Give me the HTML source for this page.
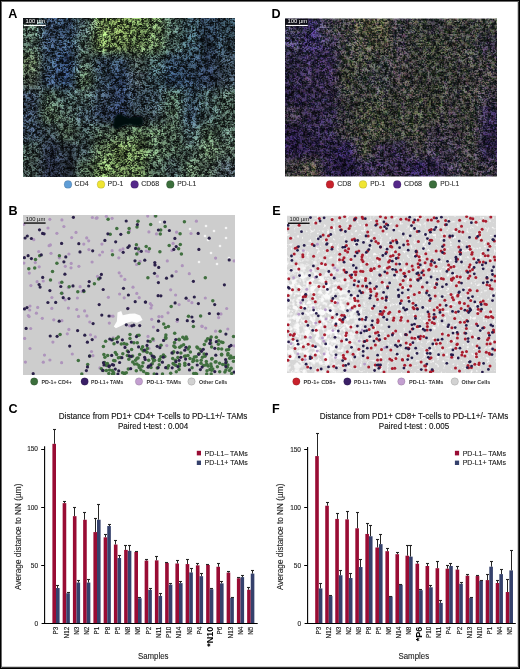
<!DOCTYPE html>
<html><head><meta charset="utf-8"><title>Figure</title>
<style>
html,body{margin:0;padding:0;background:#fff;}
body{width:520px;height:669px;position:relative;overflow:hidden;}
svg{position:absolute;left:0;top:0;font-family:"Liberation Sans", Arial, Helvetica, sans-serif;}
.frame{position:absolute;left:0;top:0;width:520px;height:669px;box-sizing:border-box;border:1px solid #000;box-shadow:inset 1px 1px 0 #6a6a6a, inset -1px -1px 0 #3a3a3a, inset -2px -2px 0 #cfcfcf;}
</style></head><body>
<svg width="520" height="669" viewBox="0 0 520 669">
<rect width="520" height="669" fill="#fff"/>
<defs><filter id="fA" x="-7" y="-12" width="272" height="219" filterUnits="userSpaceOnUse" color-interpolation-filters="sRGB">
<feGaussianBlur in="SourceGraphic" stdDeviation="4" result="base"/>
<feTurbulence type="fractalNoise" baseFrequency="0.612 0.666" numOctaves="2" seed="11" result="n1a"/>
<feTurbulence type="fractalNoise" baseFrequency="0.234" numOctaves="2" seed="14" result="n1b"/>
<feComposite in="n1a" in2="n1b" operator="arithmetic" k1="0" k2="0.5" k3="0.5" k4="0" result="n1"/>
<feColorMatrix in="n1" type="matrix" values="2.8 0 0 0 -0.8999999999999999  2.6599999999999997 0.13999999999999999 0 0 -0.8999999999999999  2.6599999999999997 0 0.13999999999999999 0 -0.8999999999999999  0 0 0 0 1" result="g1a"/>
<feComponentTransfer in="g1a" result="g1"><feFuncR type="gamma" amplitude="1.63" exponent="1.8" offset="0"/><feFuncG type="gamma" amplitude="1.63" exponent="1.8" offset="0"/><feFuncB type="gamma" amplitude="1.63" exponent="1.8" offset="0"/></feComponentTransfer>
<feTurbulence type="fractalNoise" baseFrequency="0.08" numOctaves="2" seed="18" result="n2"/>
<feColorMatrix in="n2" type="matrix" values="1.2 0 0 0 -0.09999999999999998  1.2 0.0 0 0 -0.09999999999999998  1.2 0 0.0 0 -0.09999999999999998  0 0 0 0 1" result="g2"/>
<feComposite in="base" in2="g1" operator="arithmetic" k1="1.6" k2="0.19999999999999996" k3="0" k4="0" result="m1"/>
<feComposite in="m1" in2="g2" operator="arithmetic" k1="0.9" k2="0.55" k3="0" k4="0"/>
</filter>
<clipPath id="cA"><rect x="23" y="18" width="212" height="159"/></clipPath>
<filter id="fD" x="255" y="-11.5" width="272" height="218" filterUnits="userSpaceOnUse" color-interpolation-filters="sRGB">
<feGaussianBlur in="SourceGraphic" stdDeviation="4" result="base"/>
<feTurbulence type="fractalNoise" baseFrequency="0.612 0.666" numOctaves="2" seed="23" result="n1a"/>
<feTurbulence type="fractalNoise" baseFrequency="0.234" numOctaves="2" seed="26" result="n1b"/>
<feComposite in="n1a" in2="n1b" operator="arithmetic" k1="0" k2="0.5" k3="0.5" k4="0" result="n1"/>
<feColorMatrix in="n1" type="matrix" values="2.5 0 0 0 -0.75  2.0 0.5 0 0 -0.75  2.0 0 0.5 0 -0.75  0 0 0 0 1" result="g1a"/>
<feComponentTransfer in="g1a" result="g1"><feFuncR type="gamma" amplitude="1.6" exponent="1.8" offset="0"/><feFuncG type="gamma" amplitude="1.6" exponent="1.8" offset="0"/><feFuncB type="gamma" amplitude="1.6" exponent="1.8" offset="0"/></feComponentTransfer>
<feTurbulence type="fractalNoise" baseFrequency="0.08" numOctaves="2" seed="30" result="n2"/>
<feColorMatrix in="n2" type="matrix" values="1.0 0 0 0 0.0  1.0 0.0 0 0 0.0  1.0 0 0.0 0 0.0  0 0 0 0 1" result="g2"/>
<feComposite in="base" in2="g1" operator="arithmetic" k1="1.6" k2="0.19999999999999996" k3="0" k4="0" result="m1"/>
<feComposite in="m1" in2="g2" operator="arithmetic" k1="0.8" k2="0.6" k3="0" k4="0"/>
</filter>
<clipPath id="cD"><rect x="285" y="18.5" width="212" height="158"/></clipPath>
<filter id="bl1" x="-20%" y="-20%" width="140%" height="140%"><feGaussianBlur stdDeviation="0.9"/></filter>
<filter id="bl05" x="-20%" y="-20%" width="140%" height="140%"><feGaussianBlur stdDeviation="0.45"/></filter>
<clipPath id="cB"><rect x="23" y="215" width="212" height="160"/></clipPath>
<clipPath id="cE"><rect x="287" y="215.5" width="209" height="157.5"/></clipPath>
<filter id="fE1" x="287" y="215.5" width="209" height="157.5" filterUnits="userSpaceOnUse" color-interpolation-filters="sRGB">
<feTurbulence type="fractalNoise" baseFrequency="0.3" numOctaves="2" seed="4" result="n"/>
<feColorMatrix in="n" type="matrix" values="0 0 0 0 0.97  0 0 0 0 0.97  0 0 0 0 0.97  5 0 0 0 -2.9"/>
</filter>
<filter id="fE2" x="287" y="215.5" width="209" height="157.5" filterUnits="userSpaceOnUse" color-interpolation-filters="sRGB">
<feTurbulence type="fractalNoise" baseFrequency="0.2" numOctaves="2" seed="8" result="n"/>
<feColorMatrix in="n" type="matrix" values="0 0 0 0 0.98  0 0 0 0 0.98  0 0 0 0 0.98  5 0 0 0 -2.1"/>
</filter>
<radialGradient id="gE" cx="305" cy="320" r="75" gradientUnits="userSpaceOnUse"><stop offset="0" stop-color="#fff"/><stop offset="0.55" stop-color="#fff"/><stop offset="1" stop-color="#000"/></radialGradient>
<mask id="mE" maskUnits="userSpaceOnUse" x="287" y="215.5" width="209" height="157.5"><rect x="287" y="215.5" width="209" height="157.5" fill="url(#gE)"/></mask></defs>
<g clip-path="url(#cA)"><g filter="url(#fA)"><rect x="5.33" y="0.33" width="18.27" height="18.27" fill="#455a4e"/><rect x="23.00" y="0.33" width="18.27" height="18.27" fill="#455a4e"/><rect x="40.67" y="0.33" width="18.27" height="18.27" fill="#2c3b4f"/><rect x="58.33" y="0.33" width="18.27" height="18.27" fill="#2b3d52"/><rect x="76.00" y="0.33" width="18.27" height="18.27" fill="#3b4c4c"/><rect x="93.67" y="0.33" width="18.27" height="18.27" fill="#576d42"/><rect x="111.33" y="0.33" width="18.27" height="18.27" fill="#576c3d"/><rect x="129.00" y="0.33" width="18.27" height="18.27" fill="#50673d"/><rect x="146.67" y="0.33" width="18.27" height="18.27" fill="#4f6543"/><rect x="164.33" y="0.33" width="18.27" height="18.27" fill="#3d524b"/><rect x="182.00" y="0.33" width="18.27" height="18.27" fill="#2e4249"/><rect x="199.67" y="0.33" width="18.27" height="18.27" fill="#233241"/><rect x="217.33" y="0.33" width="18.27" height="18.27" fill="#283943"/><rect x="235.00" y="0.33" width="18.27" height="18.27" fill="#283943"/><rect x="5.33" y="18.00" width="18.27" height="18.27" fill="#455a4e"/><rect x="23.00" y="18.00" width="18.27" height="18.27" fill="#455a4e"/><rect x="40.67" y="18.00" width="18.27" height="18.27" fill="#2c3b4f"/><rect x="58.33" y="18.00" width="18.27" height="18.27" fill="#2b3d52"/><rect x="76.00" y="18.00" width="18.27" height="18.27" fill="#3b4c4c"/><rect x="93.67" y="18.00" width="18.27" height="18.27" fill="#576d42"/><rect x="111.33" y="18.00" width="18.27" height="18.27" fill="#576c3d"/><rect x="129.00" y="18.00" width="18.27" height="18.27" fill="#50673d"/><rect x="146.67" y="18.00" width="18.27" height="18.27" fill="#4f6543"/><rect x="164.33" y="18.00" width="18.27" height="18.27" fill="#3d524b"/><rect x="182.00" y="18.00" width="18.27" height="18.27" fill="#2e4249"/><rect x="199.67" y="18.00" width="18.27" height="18.27" fill="#233241"/><rect x="217.33" y="18.00" width="18.27" height="18.27" fill="#283943"/><rect x="235.00" y="18.00" width="18.27" height="18.27" fill="#283943"/><rect x="5.33" y="35.67" width="18.27" height="18.27" fill="#42554c"/><rect x="23.00" y="35.67" width="18.27" height="18.27" fill="#42554c"/><rect x="40.67" y="35.67" width="18.27" height="18.27" fill="#2a394e"/><rect x="58.33" y="35.67" width="18.27" height="18.27" fill="#2b3d51"/><rect x="76.00" y="35.67" width="18.27" height="18.27" fill="#40534c"/><rect x="93.67" y="35.67" width="18.27" height="18.27" fill="#597142"/><rect x="111.33" y="35.67" width="18.27" height="18.27" fill="#54693f"/><rect x="129.00" y="35.67" width="18.27" height="18.27" fill="#4e643f"/><rect x="146.67" y="35.67" width="18.27" height="18.27" fill="#4d6344"/><rect x="164.33" y="35.67" width="18.27" height="18.27" fill="#3c514c"/><rect x="182.00" y="35.67" width="18.27" height="18.27" fill="#2d424a"/><rect x="199.67" y="35.67" width="18.27" height="18.27" fill="#243241"/><rect x="217.33" y="35.67" width="18.27" height="18.27" fill="#293944"/><rect x="235.00" y="35.67" width="18.27" height="18.27" fill="#293944"/><rect x="5.33" y="53.33" width="18.27" height="18.27" fill="#4c5c46"/><rect x="23.00" y="53.33" width="18.27" height="18.27" fill="#4c5c46"/><rect x="40.67" y="53.33" width="18.27" height="18.27" fill="#2d3f51"/><rect x="58.33" y="53.33" width="18.27" height="18.27" fill="#243551"/><rect x="76.00" y="53.33" width="18.27" height="18.27" fill="#3d4e46"/><rect x="93.67" y="53.33" width="18.27" height="18.27" fill="#283644"/><rect x="111.33" y="53.33" width="18.27" height="18.27" fill="#273645"/><rect x="129.00" y="53.33" width="18.27" height="18.27" fill="#394643"/><rect x="146.67" y="53.33" width="18.27" height="18.27" fill="#34494a"/><rect x="164.33" y="53.33" width="18.27" height="18.27" fill="#28394b"/><rect x="182.00" y="53.33" width="18.27" height="18.27" fill="#263645"/><rect x="199.67" y="53.33" width="18.27" height="18.27" fill="#212c3d"/><rect x="217.33" y="53.33" width="18.27" height="18.27" fill="#2d3a45"/><rect x="235.00" y="53.33" width="18.27" height="18.27" fill="#2d3a45"/><rect x="5.33" y="71.00" width="18.27" height="18.27" fill="#414d42"/><rect x="23.00" y="71.00" width="18.27" height="18.27" fill="#414d42"/><rect x="40.67" y="71.00" width="18.27" height="18.27" fill="#28374d"/><rect x="58.33" y="71.00" width="18.27" height="18.27" fill="#23344e"/><rect x="76.00" y="71.00" width="18.27" height="18.27" fill="#455945"/><rect x="93.67" y="71.00" width="18.27" height="18.27" fill="#2a3946"/><rect x="111.33" y="71.00" width="18.27" height="18.27" fill="#233148"/><rect x="129.00" y="71.00" width="18.27" height="18.27" fill="#364146"/><rect x="146.67" y="71.00" width="18.27" height="18.27" fill="#31454c"/><rect x="164.33" y="71.00" width="18.27" height="18.27" fill="#25374d"/><rect x="182.00" y="71.00" width="18.27" height="18.27" fill="#253547"/><rect x="199.67" y="71.00" width="18.27" height="18.27" fill="#222c3e"/><rect x="217.33" y="71.00" width="18.27" height="18.27" fill="#2f3b46"/><rect x="235.00" y="71.00" width="18.27" height="18.27" fill="#2f3b46"/><rect x="5.33" y="88.67" width="18.27" height="18.27" fill="#2b3745"/><rect x="23.00" y="88.67" width="18.27" height="18.27" fill="#2b3745"/><rect x="40.67" y="88.67" width="18.27" height="18.27" fill="#3f5246"/><rect x="58.33" y="88.67" width="18.27" height="18.27" fill="#384b4a"/><rect x="76.00" y="88.67" width="18.27" height="18.27" fill="#3a4c4a"/><rect x="93.67" y="88.67" width="18.27" height="18.27" fill="#2c3946"/><rect x="111.33" y="88.67" width="18.27" height="18.27" fill="#243046"/><rect x="129.00" y="88.67" width="18.27" height="18.27" fill="#2b3843"/><rect x="146.67" y="88.67" width="18.27" height="18.27" fill="#303f48"/><rect x="164.33" y="88.67" width="18.27" height="18.27" fill="#405649"/><rect x="182.00" y="88.67" width="18.27" height="18.27" fill="#2e414d"/><rect x="199.67" y="88.67" width="18.27" height="18.27" fill="#364948"/><rect x="217.33" y="88.67" width="18.27" height="18.27" fill="#3b4d45"/><rect x="235.00" y="88.67" width="18.27" height="18.27" fill="#3b4d45"/><rect x="5.33" y="106.33" width="18.27" height="18.27" fill="#2a3644"/><rect x="23.00" y="106.33" width="18.27" height="18.27" fill="#2a3644"/><rect x="40.67" y="106.33" width="18.27" height="18.27" fill="#425544"/><rect x="58.33" y="106.33" width="18.27" height="18.27" fill="#3b4c46"/><rect x="76.00" y="106.33" width="18.27" height="18.27" fill="#314048"/><rect x="93.67" y="106.33" width="18.27" height="18.27" fill="#273245"/><rect x="111.33" y="106.33" width="18.27" height="18.27" fill="#242f45"/><rect x="129.00" y="106.33" width="18.27" height="18.27" fill="#2c3941"/><rect x="146.67" y="106.33" width="18.27" height="18.27" fill="#324045"/><rect x="164.33" y="106.33" width="18.27" height="18.27" fill="#415547"/><rect x="182.00" y="106.33" width="18.27" height="18.27" fill="#2e3f4e"/><rect x="199.67" y="106.33" width="18.27" height="18.27" fill="#364949"/><rect x="217.33" y="106.33" width="18.27" height="18.27" fill="#3c4e46"/><rect x="235.00" y="106.33" width="18.27" height="18.27" fill="#3c4e46"/><rect x="5.33" y="124.00" width="18.27" height="18.27" fill="#293543"/><rect x="23.00" y="124.00" width="18.27" height="18.27" fill="#293543"/><rect x="40.67" y="124.00" width="18.27" height="18.27" fill="#2d393f"/><rect x="58.33" y="124.00" width="18.27" height="18.27" fill="#3b4b3e"/><rect x="76.00" y="124.00" width="18.27" height="18.27" fill="#354544"/><rect x="93.67" y="124.00" width="18.27" height="18.27" fill="#3b4c40"/><rect x="111.33" y="124.00" width="18.27" height="18.27" fill="#415240"/><rect x="129.00" y="124.00" width="18.27" height="18.27" fill="#40543d"/><rect x="146.67" y="124.00" width="18.27" height="18.27" fill="#425543"/><rect x="164.33" y="124.00" width="18.27" height="18.27" fill="#415446"/><rect x="182.00" y="124.00" width="18.27" height="18.27" fill="#36484b"/><rect x="199.67" y="124.00" width="18.27" height="18.27" fill="#415546"/><rect x="217.33" y="124.00" width="18.27" height="18.27" fill="#3c4e47"/><rect x="235.00" y="124.00" width="18.27" height="18.27" fill="#3c4e47"/><rect x="5.33" y="141.67" width="18.27" height="18.27" fill="#3c4d47"/><rect x="23.00" y="141.67" width="18.27" height="18.27" fill="#3c4d47"/><rect x="40.67" y="141.67" width="18.27" height="18.27" fill="#222939"/><rect x="58.33" y="141.67" width="18.27" height="18.27" fill="#252e37"/><rect x="76.00" y="141.67" width="18.27" height="18.27" fill="#313f42"/><rect x="93.67" y="141.67" width="18.27" height="18.27" fill="#46593f"/><rect x="111.33" y="141.67" width="18.27" height="18.27" fill="#52683f"/><rect x="129.00" y="141.67" width="18.27" height="18.27" fill="#4d633e"/><rect x="146.67" y="141.67" width="18.27" height="18.27" fill="#445844"/><rect x="164.33" y="141.67" width="18.27" height="18.27" fill="#405446"/><rect x="182.00" y="141.67" width="18.27" height="18.27" fill="#3c4e48"/><rect x="199.67" y="141.67" width="18.27" height="18.27" fill="#485c47"/><rect x="217.33" y="141.67" width="18.27" height="18.27" fill="#435449"/><rect x="235.00" y="141.67" width="18.27" height="18.27" fill="#435449"/><rect x="5.33" y="159.33" width="18.27" height="18.27" fill="#35423f"/><rect x="23.00" y="159.33" width="18.27" height="18.27" fill="#35423f"/><rect x="40.67" y="159.33" width="18.27" height="18.27" fill="#202635"/><rect x="58.33" y="159.33" width="18.27" height="18.27" fill="#212833"/><rect x="76.00" y="159.33" width="18.27" height="18.27" fill="#3a4b3d"/><rect x="93.67" y="159.33" width="18.27" height="18.27" fill="#4f653f"/><rect x="111.33" y="159.33" width="18.27" height="18.27" fill="#506540"/><rect x="129.00" y="159.33" width="18.27" height="18.27" fill="#4c623e"/><rect x="146.67" y="159.33" width="18.27" height="18.27" fill="#3d4f43"/><rect x="164.33" y="159.33" width="18.27" height="18.27" fill="#384849"/><rect x="182.00" y="159.33" width="18.27" height="18.27" fill="#435644"/><rect x="199.67" y="159.33" width="18.27" height="18.27" fill="#425248"/><rect x="217.33" y="159.33" width="18.27" height="18.27" fill="#39444a"/><rect x="235.00" y="159.33" width="18.27" height="18.27" fill="#39444a"/><rect x="5.33" y="177.00" width="18.27" height="18.27" fill="#35423f"/><rect x="23.00" y="177.00" width="18.27" height="18.27" fill="#35423f"/><rect x="40.67" y="177.00" width="18.27" height="18.27" fill="#202635"/><rect x="58.33" y="177.00" width="18.27" height="18.27" fill="#212833"/><rect x="76.00" y="177.00" width="18.27" height="18.27" fill="#3a4b3d"/><rect x="93.67" y="177.00" width="18.27" height="18.27" fill="#4f653f"/><rect x="111.33" y="177.00" width="18.27" height="18.27" fill="#506540"/><rect x="129.00" y="177.00" width="18.27" height="18.27" fill="#4c623e"/><rect x="146.67" y="177.00" width="18.27" height="18.27" fill="#3d4f43"/><rect x="164.33" y="177.00" width="18.27" height="18.27" fill="#384849"/><rect x="182.00" y="177.00" width="18.27" height="18.27" fill="#435644"/><rect x="199.67" y="177.00" width="18.27" height="18.27" fill="#425248"/><rect x="217.33" y="177.00" width="18.27" height="18.27" fill="#39444a"/><rect x="235.00" y="177.00" width="18.27" height="18.27" fill="#39444a"/></g><path d="M117.3,112.7 L123,115 L128.8,117.3 L134.6,116.7 L140.4,116.1 L143.3,118.5 L143.8,123 L141.5,126 L134.6,126 L128.8,124.8 L123,126 L118.5,128.8 L115,129.4 L112.7,125.4 L113.8,118.5 Z" fill="#06080c" filter="url(#bl1)"/><rect x="23" y="18" width="14" height="6.3" fill="#0b0c10" opacity="0.85"/><text x="25.6" y="22.9" font-size="5.6" fill="#fff" textLength="19.6" lengthAdjust="spacingAndGlyphs">100 µm</text><rect x="23.8" y="24.9" width="22" height="1.1" fill="#fff"/></g>
<g clip-path="url(#cD)"><g filter="url(#fD)"><rect x="267.33" y="0.94" width="18.27" height="18.16" fill="#37344f"/><rect x="285.00" y="0.94" width="18.27" height="18.16" fill="#37344f"/><rect x="302.67" y="0.94" width="18.27" height="18.16" fill="#302954"/><rect x="320.33" y="0.94" width="18.27" height="18.16" fill="#41414b"/><rect x="338.00" y="0.94" width="18.27" height="18.16" fill="#404042"/><rect x="355.67" y="0.94" width="18.27" height="18.16" fill="#4c4e3c"/><rect x="373.33" y="0.94" width="18.27" height="18.16" fill="#454738"/><rect x="391.00" y="0.94" width="18.27" height="18.16" fill="#3b3b41"/><rect x="408.67" y="0.94" width="18.27" height="18.16" fill="#3b403a"/><rect x="426.33" y="0.94" width="18.27" height="18.16" fill="#2c2e31"/><rect x="444.00" y="0.94" width="18.27" height="18.16" fill="#3b3d38"/><rect x="461.67" y="0.94" width="18.27" height="18.16" fill="#3b3f3b"/><rect x="479.33" y="0.94" width="18.27" height="18.16" fill="#3c413c"/><rect x="497.00" y="0.94" width="18.27" height="18.16" fill="#3c413c"/><rect x="267.33" y="18.50" width="18.27" height="18.16" fill="#37344f"/><rect x="285.00" y="18.50" width="18.27" height="18.16" fill="#37344f"/><rect x="302.67" y="18.50" width="18.27" height="18.16" fill="#302954"/><rect x="320.33" y="18.50" width="18.27" height="18.16" fill="#41414b"/><rect x="338.00" y="18.50" width="18.27" height="18.16" fill="#404042"/><rect x="355.67" y="18.50" width="18.27" height="18.16" fill="#4c4e3c"/><rect x="373.33" y="18.50" width="18.27" height="18.16" fill="#454738"/><rect x="391.00" y="18.50" width="18.27" height="18.16" fill="#3b3b41"/><rect x="408.67" y="18.50" width="18.27" height="18.16" fill="#3b403a"/><rect x="426.33" y="18.50" width="18.27" height="18.16" fill="#2c2e31"/><rect x="444.00" y="18.50" width="18.27" height="18.16" fill="#3b3d38"/><rect x="461.67" y="18.50" width="18.27" height="18.16" fill="#3b3f3b"/><rect x="479.33" y="18.50" width="18.27" height="18.16" fill="#3c413c"/><rect x="497.00" y="18.50" width="18.27" height="18.16" fill="#3c413c"/><rect x="267.33" y="36.06" width="18.27" height="18.16" fill="#35324c"/><rect x="285.00" y="36.06" width="18.27" height="18.16" fill="#35324c"/><rect x="302.67" y="36.06" width="18.27" height="18.16" fill="#302851"/><rect x="320.33" y="36.06" width="18.27" height="18.16" fill="#37324d"/><rect x="338.00" y="36.06" width="18.27" height="18.16" fill="#404141"/><rect x="355.67" y="36.06" width="18.27" height="18.16" fill="#404239"/><rect x="373.33" y="36.06" width="18.27" height="18.16" fill="#444638"/><rect x="391.00" y="36.06" width="18.27" height="18.16" fill="#3b3a41"/><rect x="408.67" y="36.06" width="18.27" height="18.16" fill="#3b3f39"/><rect x="426.33" y="36.06" width="18.27" height="18.16" fill="#3a4035"/><rect x="444.00" y="36.06" width="18.27" height="18.16" fill="#3b3c38"/><rect x="461.67" y="36.06" width="18.27" height="18.16" fill="#3b3f3b"/><rect x="479.33" y="36.06" width="18.27" height="18.16" fill="#333040"/><rect x="497.00" y="36.06" width="18.27" height="18.16" fill="#333040"/><rect x="267.33" y="53.61" width="18.27" height="18.16" fill="#2c2741"/><rect x="285.00" y="53.61" width="18.27" height="18.16" fill="#2c2741"/><rect x="302.67" y="53.61" width="18.27" height="18.16" fill="#312947"/><rect x="320.33" y="53.61" width="18.27" height="18.16" fill="#302748"/><rect x="338.00" y="53.61" width="18.27" height="18.16" fill="#3c3f38"/><rect x="355.67" y="53.61" width="18.27" height="18.16" fill="#434740"/><rect x="373.33" y="53.61" width="18.27" height="18.16" fill="#3a3e3e"/><rect x="391.00" y="53.61" width="18.27" height="18.16" fill="#403c3f"/><rect x="408.67" y="53.61" width="18.27" height="18.16" fill="#353835"/><rect x="426.33" y="53.61" width="18.27" height="18.16" fill="#333832"/><rect x="444.00" y="53.61" width="18.27" height="18.16" fill="#393c38"/><rect x="461.67" y="53.61" width="18.27" height="18.16" fill="#3b3c3b"/><rect x="479.33" y="53.61" width="18.27" height="18.16" fill="#3c3c3c"/><rect x="497.00" y="53.61" width="18.27" height="18.16" fill="#3c3c3c"/><rect x="267.33" y="71.17" width="18.27" height="18.16" fill="#28223b"/><rect x="285.00" y="71.17" width="18.27" height="18.16" fill="#28223b"/><rect x="302.67" y="71.17" width="18.27" height="18.16" fill="#2f2741"/><rect x="320.33" y="71.17" width="18.27" height="18.16" fill="#312843"/><rect x="338.00" y="71.17" width="18.27" height="18.16" fill="#3c4035"/><rect x="355.67" y="71.17" width="18.27" height="18.16" fill="#373c3c"/><rect x="373.33" y="71.17" width="18.27" height="18.16" fill="#373b3e"/><rect x="391.00" y="71.17" width="18.27" height="18.16" fill="#3f3c3d"/><rect x="408.67" y="71.17" width="18.27" height="18.16" fill="#343633"/><rect x="426.33" y="71.17" width="18.27" height="18.16" fill="#313531"/><rect x="444.00" y="71.17" width="18.27" height="18.16" fill="#383a38"/><rect x="461.67" y="71.17" width="18.27" height="18.16" fill="#3b3b3b"/><rect x="479.33" y="71.17" width="18.27" height="18.16" fill="#3d3b3c"/><rect x="497.00" y="71.17" width="18.27" height="18.16" fill="#3d3b3c"/><rect x="267.33" y="88.72" width="18.27" height="18.16" fill="#261f3c"/><rect x="285.00" y="88.72" width="18.27" height="18.16" fill="#261f3c"/><rect x="302.67" y="88.72" width="18.27" height="18.16" fill="#2d2641"/><rect x="320.33" y="88.72" width="18.27" height="18.16" fill="#2f2842"/><rect x="338.00" y="88.72" width="18.27" height="18.16" fill="#343536"/><rect x="355.67" y="88.72" width="18.27" height="18.16" fill="#373b36"/><rect x="373.33" y="88.72" width="18.27" height="18.16" fill="#393d37"/><rect x="391.00" y="88.72" width="18.27" height="18.16" fill="#393b38"/><rect x="408.67" y="88.72" width="18.27" height="18.16" fill="#3a3d36"/><rect x="426.33" y="88.72" width="18.27" height="18.16" fill="#383c34"/><rect x="444.00" y="88.72" width="18.27" height="18.16" fill="#363638"/><rect x="461.67" y="88.72" width="18.27" height="18.16" fill="#3d3f3a"/><rect x="479.33" y="88.72" width="18.27" height="18.16" fill="#36323f"/><rect x="497.00" y="88.72" width="18.27" height="18.16" fill="#36323f"/><rect x="267.33" y="106.28" width="18.27" height="18.16" fill="#322d39"/><rect x="285.00" y="106.28" width="18.27" height="18.16" fill="#322d39"/><rect x="302.67" y="106.28" width="18.27" height="18.16" fill="#2c2440"/><rect x="320.33" y="106.28" width="18.27" height="18.16" fill="#2d2741"/><rect x="338.00" y="106.28" width="18.27" height="18.16" fill="#313235"/><rect x="355.67" y="106.28" width="18.27" height="18.16" fill="#3f4337"/><rect x="373.33" y="106.28" width="18.27" height="18.16" fill="#393e34"/><rect x="391.00" y="106.28" width="18.27" height="18.16" fill="#373c36"/><rect x="408.67" y="106.28" width="18.27" height="18.16" fill="#3b4036"/><rect x="426.33" y="106.28" width="18.27" height="18.16" fill="#3b3f36"/><rect x="444.00" y="106.28" width="18.27" height="18.16" fill="#363538"/><rect x="461.67" y="106.28" width="18.27" height="18.16" fill="#3d403a"/><rect x="479.33" y="106.28" width="18.27" height="18.16" fill="#2c2542"/><rect x="497.00" y="106.28" width="18.27" height="18.16" fill="#2c2542"/><rect x="267.33" y="123.83" width="18.27" height="18.16" fill="#241b3c"/><rect x="285.00" y="123.83" width="18.27" height="18.16" fill="#241b3c"/><rect x="302.67" y="123.83" width="18.27" height="18.16" fill="#2a233f"/><rect x="320.33" y="123.83" width="18.27" height="18.16" fill="#2c2541"/><rect x="338.00" y="123.83" width="18.27" height="18.16" fill="#3d3c3c"/><rect x="355.67" y="123.83" width="18.27" height="18.16" fill="#3a3d36"/><rect x="373.33" y="123.83" width="18.27" height="18.16" fill="#3e4235"/><rect x="391.00" y="123.83" width="18.27" height="18.16" fill="#3b4038"/><rect x="408.67" y="123.83" width="18.27" height="18.16" fill="#3d4038"/><rect x="426.33" y="123.83" width="18.27" height="18.16" fill="#322d3c"/><rect x="444.00" y="123.83" width="18.27" height="18.16" fill="#35333a"/><rect x="461.67" y="123.83" width="18.27" height="18.16" fill="#3c3e3b"/><rect x="479.33" y="123.83" width="18.27" height="18.16" fill="#2c2442"/><rect x="497.00" y="123.83" width="18.27" height="18.16" fill="#2c2442"/><rect x="267.33" y="141.39" width="18.27" height="18.16" fill="#261c3f"/><rect x="285.00" y="141.39" width="18.27" height="18.16" fill="#261c3f"/><rect x="302.67" y="141.39" width="18.27" height="18.16" fill="#281f3d"/><rect x="320.33" y="141.39" width="18.27" height="18.16" fill="#29213f"/><rect x="338.00" y="141.39" width="18.27" height="18.16" fill="#291f4a"/><rect x="355.67" y="141.39" width="18.27" height="18.16" fill="#42463b"/><rect x="373.33" y="141.39" width="18.27" height="18.16" fill="#2f283f"/><rect x="391.00" y="141.39" width="18.27" height="18.16" fill="#302843"/><rect x="408.67" y="141.39" width="18.27" height="18.16" fill="#3c3a3e"/><rect x="426.33" y="141.39" width="18.27" height="18.16" fill="#363240"/><rect x="444.00" y="141.39" width="18.27" height="18.16" fill="#34303e"/><rect x="461.67" y="141.39" width="18.27" height="18.16" fill="#3c3c3d"/><rect x="479.33" y="141.39" width="18.27" height="18.16" fill="#2b2343"/><rect x="497.00" y="141.39" width="18.27" height="18.16" fill="#2b2343"/><rect x="267.33" y="158.94" width="18.27" height="18.16" fill="#383638"/><rect x="285.00" y="158.94" width="18.27" height="18.16" fill="#383638"/><rect x="302.67" y="158.94" width="18.27" height="18.16" fill="#45443a"/><rect x="320.33" y="158.94" width="18.27" height="18.16" fill="#29203f"/><rect x="338.00" y="158.94" width="18.27" height="18.16" fill="#1f1737"/><rect x="355.67" y="158.94" width="18.27" height="18.16" fill="#2e2643"/><rect x="373.33" y="158.94" width="18.27" height="18.16" fill="#302940"/><rect x="391.00" y="158.94" width="18.27" height="18.16" fill="#322944"/><rect x="408.67" y="158.94" width="18.27" height="18.16" fill="#291f47"/><rect x="426.33" y="158.94" width="18.27" height="18.16" fill="#2e2545"/><rect x="444.00" y="158.94" width="18.27" height="18.16" fill="#342f3f"/><rect x="461.67" y="158.94" width="18.27" height="18.16" fill="#3b3b3d"/><rect x="479.33" y="158.94" width="18.27" height="18.16" fill="#363240"/><rect x="497.00" y="158.94" width="18.27" height="18.16" fill="#363240"/><rect x="267.33" y="176.50" width="18.27" height="18.16" fill="#383638"/><rect x="285.00" y="176.50" width="18.27" height="18.16" fill="#383638"/><rect x="302.67" y="176.50" width="18.27" height="18.16" fill="#45443a"/><rect x="320.33" y="176.50" width="18.27" height="18.16" fill="#29203f"/><rect x="338.00" y="176.50" width="18.27" height="18.16" fill="#1f1737"/><rect x="355.67" y="176.50" width="18.27" height="18.16" fill="#2e2643"/><rect x="373.33" y="176.50" width="18.27" height="18.16" fill="#302940"/><rect x="391.00" y="176.50" width="18.27" height="18.16" fill="#322944"/><rect x="408.67" y="176.50" width="18.27" height="18.16" fill="#291f47"/><rect x="426.33" y="176.50" width="18.27" height="18.16" fill="#2e2545"/><rect x="444.00" y="176.50" width="18.27" height="18.16" fill="#342f3f"/><rect x="461.67" y="176.50" width="18.27" height="18.16" fill="#3b3b3d"/><rect x="479.33" y="176.50" width="18.27" height="18.16" fill="#363240"/><rect x="497.00" y="176.50" width="18.27" height="18.16" fill="#363240"/></g><rect x="285" y="18.5" width="23" height="8" fill="#0b0a10" opacity="0.85"/><text x="287.6" y="22.9" font-size="5.6" fill="#fff" textLength="19.6" lengthAdjust="spacingAndGlyphs">100 µm</text><rect x="285.8" y="24.9" width="22" height="1.1" fill="#fff"/></g>
<g clip-path="url(#cB)"><rect x="23" y="215" width="212" height="160" fill="#cdcdcd"/><path d="M113.8,326.5 L116.9,321.2 L117.5,312.5 L121.2,311.1 L122.8,315.2 L129.6,313.8 L134.9,313.6 L140.2,315.4 L142.6,320.1 L137,322.8 L131.7,321.6 L126.5,323.0 L121.2,325.8 L115.9,328.2 Z" fill="#fdfdfd" filter="url(#bl05)"/><circle cx="205" cy="236" r="1.3" fill="#f4f4f4"/><circle cx="208" cy="240" r="1.3" fill="#f4f4f4"/><circle cx="214" cy="231" r="1.3" fill="#f4f4f4"/><circle cx="220" cy="246" r="1.3" fill="#f4f4f4"/><circle cx="226" cy="238" r="1.3" fill="#f4f4f4"/><circle cx="211" cy="253" r="1.3" fill="#f4f4f4"/><circle cx="229" cy="258" r="1.3" fill="#f4f4f4"/><circle cx="199" cy="262" r="1.3" fill="#f4f4f4"/><circle cx="217" cy="264" r="1.3" fill="#f4f4f4"/><circle cx="190" cy="229" r="1.3" fill="#f4f4f4"/><circle cx="160" cy="222" r="1.3" fill="#f4f4f4"/><circle cx="226" cy="228" r="1.3" fill="#f4f4f4"/><circle cx="206" cy="226" r="1.3" fill="#f4f4f4"/><g filter="url(#bl05)"><g fill="#ae94bc"><circle cx="23.9" cy="224.3" r="1.6"/><circle cx="48.0" cy="228.0" r="1.6"/><circle cx="61.9" cy="219.9" r="1.6"/><circle cx="63.9" cy="226.5" r="1.6"/><circle cx="49.8" cy="219.3" r="1.6"/><circle cx="56.9" cy="233.3" r="1.6"/><circle cx="96.3" cy="218.2" r="1.6"/><circle cx="97.1" cy="217.8" r="1.6"/><circle cx="92.4" cy="217.5" r="1.6"/><circle cx="76.0" cy="232.4" r="1.6"/><circle cx="112.1" cy="218.3" r="1.6"/><circle cx="106.4" cy="216.3" r="1.6"/><circle cx="147.7" cy="216.1" r="1.6"/><circle cx="154.8" cy="215.9" r="1.6"/><circle cx="148.9" cy="231.9" r="1.6"/><circle cx="129.5" cy="230.8" r="1.6"/><circle cx="176.6" cy="232.2" r="1.6"/><circle cx="156.5" cy="233.9" r="1.6"/><circle cx="191.0" cy="233.5" r="1.6"/><circle cx="196.4" cy="221.2" r="1.6"/><circle cx="49.1" cy="245.7" r="1.6"/><circle cx="33.8" cy="239.7" r="1.6"/><circle cx="38.7" cy="251.5" r="1.6"/><circle cx="51.0" cy="253.3" r="1.6"/><circle cx="50.4" cy="244.9" r="1.6"/><circle cx="71.7" cy="237.6" r="1.6"/><circle cx="68.9" cy="254.0" r="1.6"/><circle cx="83.8" cy="244.1" r="1.6"/><circle cx="102.5" cy="252.0" r="1.6"/><circle cx="101.9" cy="244.1" r="1.6"/><circle cx="88.9" cy="249.6" r="1.6"/><circle cx="88.7" cy="240.8" r="1.6"/><circle cx="86.7" cy="237.9" r="1.6"/><circle cx="112.1" cy="250.7" r="1.6"/><circle cx="123.0" cy="248.9" r="1.6"/><circle cx="120.1" cy="250.2" r="1.6"/><circle cx="146.2" cy="251.0" r="1.6"/><circle cx="138.2" cy="247.9" r="1.6"/><circle cx="148.6" cy="251.6" r="1.6"/><circle cx="138.3" cy="251.9" r="1.6"/><circle cx="173.1" cy="243.4" r="1.6"/><circle cx="172.0" cy="250.5" r="1.6"/><circle cx="35.3" cy="262.6" r="1.6"/><circle cx="39.2" cy="266.8" r="1.6"/><circle cx="29.3" cy="273.1" r="1.6"/><circle cx="23.9" cy="263.1" r="1.6"/><circle cx="71.2" cy="263.4" r="1.6"/><circle cx="71.0" cy="267.8" r="1.6"/><circle cx="59.3" cy="257.8" r="1.6"/><circle cx="65.3" cy="266.3" r="1.6"/><circle cx="92.1" cy="262.0" r="1.6"/><circle cx="99.7" cy="255.0" r="1.6"/><circle cx="78.9" cy="266.3" r="1.6"/><circle cx="118.8" cy="257.8" r="1.6"/><circle cx="119.2" cy="272.8" r="1.6"/><circle cx="140.0" cy="261.4" r="1.6"/><circle cx="155.1" cy="264.8" r="1.6"/><circle cx="136.6" cy="264.5" r="1.6"/><circle cx="167.3" cy="260.9" r="1.6"/><circle cx="176.2" cy="271.5" r="1.6"/><circle cx="182.3" cy="265.7" r="1.6"/><circle cx="189.3" cy="273.7" r="1.6"/><circle cx="215.6" cy="258.1" r="1.6"/><circle cx="234.1" cy="260.9" r="1.6"/><circle cx="43.2" cy="281.0" r="1.6"/><circle cx="37.1" cy="281.7" r="1.6"/><circle cx="30.9" cy="285.6" r="1.6"/><circle cx="68.3" cy="287.6" r="1.6"/><circle cx="62.3" cy="293.2" r="1.6"/><circle cx="59.7" cy="282.8" r="1.6"/><circle cx="80.1" cy="286.7" r="1.6"/><circle cx="97.5" cy="276.4" r="1.6"/><circle cx="82.1" cy="291.4" r="1.6"/><circle cx="121.1" cy="276.0" r="1.6"/><circle cx="124.8" cy="279.4" r="1.6"/><circle cx="119.6" cy="294.0" r="1.6"/><circle cx="136.8" cy="293.4" r="1.6"/><circle cx="133.0" cy="287.2" r="1.6"/><circle cx="157.4" cy="276.2" r="1.6"/><circle cx="170.7" cy="289.8" r="1.6"/><circle cx="36.4" cy="313.2" r="1.6"/><circle cx="37.7" cy="307.4" r="1.6"/><circle cx="30.0" cy="306.0" r="1.6"/><circle cx="29.7" cy="310.0" r="1.6"/><circle cx="68.4" cy="308.1" r="1.6"/><circle cx="51.8" cy="308.4" r="1.6"/><circle cx="51.9" cy="297.5" r="1.6"/><circle cx="65.2" cy="299.8" r="1.6"/><circle cx="84.6" cy="310.9" r="1.6"/><circle cx="76.8" cy="309.5" r="1.6"/><circle cx="77.4" cy="298.0" r="1.6"/><circle cx="108.4" cy="297.3" r="1.6"/><circle cx="128.3" cy="308.3" r="1.6"/><circle cx="124.2" cy="297.8" r="1.6"/><circle cx="139.2" cy="297.7" r="1.6"/><circle cx="151.0" cy="308.0" r="1.6"/><circle cx="150.3" cy="303.7" r="1.6"/><circle cx="151.6" cy="305.3" r="1.6"/><circle cx="179.1" cy="304.6" r="1.6"/><circle cx="175.6" cy="295.0" r="1.6"/><circle cx="168.0" cy="312.8" r="1.6"/><circle cx="191.9" cy="302.7" r="1.6"/><circle cx="205.3" cy="298.0" r="1.6"/><circle cx="188.7" cy="300.5" r="1.6"/><circle cx="226.7" cy="308.5" r="1.6"/><circle cx="221.0" cy="313.9" r="1.6"/><circle cx="30.7" cy="328.5" r="1.6"/><circle cx="42.3" cy="318.3" r="1.6"/><circle cx="28.3" cy="315.5" r="1.6"/><circle cx="29.1" cy="316.6" r="1.6"/><circle cx="61.9" cy="320.7" r="1.6"/><circle cx="68.9" cy="329.4" r="1.6"/><circle cx="53.8" cy="319.8" r="1.6"/><circle cx="67.3" cy="333.8" r="1.6"/><circle cx="86.9" cy="315.9" r="1.6"/><circle cx="90.5" cy="334.8" r="1.6"/><circle cx="89.8" cy="322.0" r="1.6"/><circle cx="78.5" cy="316.4" r="1.6"/><circle cx="113.0" cy="316.2" r="1.6"/><circle cx="109.3" cy="323.1" r="1.6"/><circle cx="110.6" cy="316.0" r="1.6"/><circle cx="153.4" cy="327.0" r="1.6"/><circle cx="151.7" cy="319.3" r="1.6"/><circle cx="129.5" cy="325.8" r="1.6"/><circle cx="177.2" cy="321.3" r="1.6"/><circle cx="158.9" cy="316.6" r="1.6"/><circle cx="162.0" cy="316.7" r="1.6"/><circle cx="201.9" cy="326.1" r="1.6"/><circle cx="205.7" cy="328.1" r="1.6"/><circle cx="202.1" cy="326.5" r="1.6"/><circle cx="227.8" cy="329.0" r="1.6"/><circle cx="215.6" cy="331.2" r="1.6"/><circle cx="218.6" cy="317.6" r="1.6"/><circle cx="24.7" cy="338.4" r="1.6"/><circle cx="30.0" cy="348.5" r="1.6"/><circle cx="52.9" cy="342.1" r="1.6"/><circle cx="72.3" cy="354.0" r="1.6"/><circle cx="91.5" cy="351.5" r="1.6"/><circle cx="95.3" cy="336.9" r="1.6"/><circle cx="113.1" cy="337.9" r="1.6"/><circle cx="124.5" cy="344.8" r="1.6"/><circle cx="153.6" cy="340.5" r="1.6"/><circle cx="148.0" cy="336.4" r="1.6"/><circle cx="149.0" cy="348.4" r="1.6"/><circle cx="174.8" cy="343.3" r="1.6"/><circle cx="166.8" cy="345.6" r="1.6"/><circle cx="211.0" cy="344.6" r="1.6"/><circle cx="234.1" cy="345.8" r="1.6"/><circle cx="25.4" cy="362.1" r="1.6"/><circle cx="44.5" cy="355.1" r="1.6"/><circle cx="43.3" cy="362.2" r="1.6"/><circle cx="49.9" cy="360.0" r="1.6"/><circle cx="61.6" cy="362.7" r="1.6"/><circle cx="99.9" cy="367.9" r="1.6"/><circle cx="92.9" cy="355.7" r="1.6"/></g><g fill="#41703f"><circle cx="108.1" cy="219.3" r="1.75"/><circle cx="128.5" cy="232.4" r="1.75"/><circle cx="110.2" cy="234.2" r="1.75"/><circle cx="116.8" cy="228.6" r="1.75"/><circle cx="137.0" cy="227.1" r="1.75"/><circle cx="129.1" cy="228.6" r="1.75"/><circle cx="138.0" cy="221.2" r="1.75"/><circle cx="150.7" cy="224.6" r="1.75"/><circle cx="165.2" cy="226.6" r="1.75"/><circle cx="155.7" cy="215.9" r="1.75"/><circle cx="160.3" cy="234.1" r="1.75"/><circle cx="160.7" cy="230.1" r="1.75"/><circle cx="180.1" cy="233.8" r="1.75"/><circle cx="184.4" cy="221.8" r="1.75"/><circle cx="112.5" cy="254.8" r="1.75"/><circle cx="138.6" cy="249.1" r="1.75"/><circle cx="136.4" cy="244.7" r="1.75"/><circle cx="149.4" cy="248.8" r="1.75"/><circle cx="136.8" cy="253.9" r="1.75"/><circle cx="146.2" cy="246.6" r="1.75"/><circle cx="178.6" cy="248.8" r="1.75"/><circle cx="181.4" cy="254.1" r="1.75"/><circle cx="169.2" cy="245.6" r="1.75"/><circle cx="159.9" cy="251.7" r="1.75"/><circle cx="180.3" cy="244.5" r="1.75"/><circle cx="34.7" cy="268.0" r="1.75"/><circle cx="28.8" cy="268.7" r="1.75"/><circle cx="39.7" cy="255.8" r="1.75"/><circle cx="35.5" cy="259.5" r="1.75"/><circle cx="56.9" cy="263.2" r="1.75"/><circle cx="52.5" cy="271.6" r="1.75"/><circle cx="59.4" cy="255.7" r="1.75"/><circle cx="139.0" cy="263.6" r="1.75"/><circle cx="61.8" cy="282.2" r="1.75"/><circle cx="69.2" cy="286.8" r="1.75"/><circle cx="50.5" cy="280.0" r="1.75"/><circle cx="61.6" cy="293.3" r="1.75"/><circle cx="98.6" cy="278.9" r="1.75"/><circle cx="83.9" cy="291.6" r="1.75"/><circle cx="77.8" cy="291.7" r="1.75"/><circle cx="94.4" cy="283.7" r="1.75"/><circle cx="147.9" cy="277.7" r="1.75"/><circle cx="205.3" cy="277.7" r="1.75"/><circle cx="171.2" cy="306.5" r="1.75"/><circle cx="212.8" cy="300.7" r="1.75"/><circle cx="60.1" cy="334.5" r="1.75"/><circle cx="130.0" cy="334.4" r="1.75"/><circle cx="168.4" cy="326.4" r="1.75"/><circle cx="165.5" cy="327.5" r="1.75"/><circle cx="174.7" cy="333.3" r="1.75"/><circle cx="163.7" cy="324.0" r="1.75"/><circle cx="193.4" cy="326.5" r="1.75"/><circle cx="188.5" cy="316.2" r="1.75"/><circle cx="200.6" cy="316.0" r="1.75"/><circle cx="220.2" cy="331.3" r="1.75"/><circle cx="116.6" cy="338.4" r="1.75"/><circle cx="121.3" cy="343.9" r="1.75"/><circle cx="127.4" cy="350.9" r="1.75"/><circle cx="105.6" cy="341.3" r="1.75"/><circle cx="126.7" cy="344.2" r="1.75"/><circle cx="114.0" cy="343.8" r="1.75"/><circle cx="122.8" cy="353.7" r="1.75"/><circle cx="116.6" cy="354.4" r="1.75"/><circle cx="118.3" cy="337.1" r="1.75"/><circle cx="124.1" cy="343.4" r="1.75"/><circle cx="103.9" cy="354.6" r="1.75"/><circle cx="103.4" cy="346.5" r="1.75"/><circle cx="115.3" cy="352.6" r="1.75"/><circle cx="112.9" cy="339.3" r="1.75"/><circle cx="130.0" cy="338.4" r="1.75"/><circle cx="131.6" cy="349.4" r="1.75"/><circle cx="152.9" cy="339.0" r="1.75"/><circle cx="150.1" cy="341.5" r="1.75"/><circle cx="147.1" cy="352.3" r="1.75"/><circle cx="145.5" cy="351.0" r="1.75"/><circle cx="139.0" cy="335.2" r="1.75"/><circle cx="142.6" cy="346.7" r="1.75"/><circle cx="133.9" cy="342.8" r="1.75"/><circle cx="137.4" cy="335.5" r="1.75"/><circle cx="137.3" cy="342.7" r="1.75"/><circle cx="141.6" cy="349.1" r="1.75"/><circle cx="139.6" cy="354.6" r="1.75"/><circle cx="150.6" cy="353.5" r="1.75"/><circle cx="147.4" cy="348.4" r="1.75"/><circle cx="143.2" cy="351.0" r="1.75"/><circle cx="180.9" cy="352.9" r="1.75"/><circle cx="173.7" cy="351.8" r="1.75"/><circle cx="175.1" cy="347.2" r="1.75"/><circle cx="161.0" cy="345.3" r="1.75"/><circle cx="179.2" cy="339.8" r="1.75"/><circle cx="181.3" cy="345.9" r="1.75"/><circle cx="165.9" cy="335.1" r="1.75"/><circle cx="165.8" cy="338.6" r="1.75"/><circle cx="172.8" cy="353.0" r="1.75"/><circle cx="179.6" cy="347.3" r="1.75"/><circle cx="165.7" cy="337.2" r="1.75"/><circle cx="173.8" cy="346.1" r="1.75"/><circle cx="174.5" cy="342.5" r="1.75"/><circle cx="179.0" cy="339.3" r="1.75"/><circle cx="206.0" cy="341.0" r="1.75"/><circle cx="189.4" cy="347.1" r="1.75"/><circle cx="207.6" cy="338.7" r="1.75"/><circle cx="182.8" cy="337.3" r="1.75"/><circle cx="196.9" cy="347.1" r="1.75"/><circle cx="186.9" cy="338.8" r="1.75"/><circle cx="197.8" cy="347.9" r="1.75"/><circle cx="200.3" cy="349.6" r="1.75"/><circle cx="183.6" cy="344.7" r="1.75"/><circle cx="204.1" cy="354.1" r="1.75"/><circle cx="190.4" cy="352.0" r="1.75"/><circle cx="199.1" cy="353.5" r="1.75"/><circle cx="188.1" cy="348.9" r="1.75"/><circle cx="204.3" cy="344.5" r="1.75"/><circle cx="184.7" cy="338.9" r="1.75"/><circle cx="186.2" cy="336.9" r="1.75"/><circle cx="211.2" cy="337.1" r="1.75"/><circle cx="210.2" cy="339.1" r="1.75"/><circle cx="218.4" cy="344.2" r="1.75"/><circle cx="226.5" cy="349.9" r="1.75"/><circle cx="210.7" cy="343.1" r="1.75"/><circle cx="222.9" cy="342.5" r="1.75"/><circle cx="211.6" cy="346.9" r="1.75"/><circle cx="218.4" cy="348.7" r="1.75"/><circle cx="221.6" cy="354.3" r="1.75"/><circle cx="233.5" cy="336.4" r="1.75"/><circle cx="228.6" cy="349.4" r="1.75"/><circle cx="216.3" cy="337.3" r="1.75"/><circle cx="221.2" cy="342.1" r="1.75"/><circle cx="228.0" cy="353.4" r="1.75"/><circle cx="218.6" cy="340.8" r="1.75"/><circle cx="221.7" cy="348.9" r="1.75"/><circle cx="89.7" cy="356.1" r="1.75"/><circle cx="81.8" cy="374.1" r="1.75"/><circle cx="87.7" cy="364.4" r="1.75"/><circle cx="78.3" cy="360.6" r="1.75"/><circle cx="101.3" cy="368.7" r="1.75"/><circle cx="103.1" cy="370.4" r="1.75"/><circle cx="113.5" cy="372.5" r="1.75"/><circle cx="124.4" cy="373.3" r="1.75"/><circle cx="112.5" cy="374.1" r="1.75"/><circle cx="122.5" cy="372.8" r="1.75"/><circle cx="106.4" cy="370.6" r="1.75"/><circle cx="113.7" cy="374.1" r="1.75"/><circle cx="128.8" cy="359.3" r="1.75"/><circle cx="113.7" cy="360.4" r="1.75"/><circle cx="115.0" cy="360.7" r="1.75"/><circle cx="120.2" cy="357.5" r="1.75"/><circle cx="107.0" cy="364.2" r="1.75"/><circle cx="104.5" cy="362.6" r="1.75"/><circle cx="126.3" cy="372.7" r="1.75"/><circle cx="107.7" cy="355.4" r="1.75"/><circle cx="124.4" cy="374.1" r="1.75"/><circle cx="118.4" cy="357.7" r="1.75"/><circle cx="108.8" cy="373.4" r="1.75"/><circle cx="127.3" cy="355.6" r="1.75"/><circle cx="107.4" cy="363.6" r="1.75"/><circle cx="109.6" cy="370.1" r="1.75"/><circle cx="112.4" cy="370.5" r="1.75"/><circle cx="106.5" cy="365.4" r="1.75"/><circle cx="128.3" cy="369.0" r="1.75"/><circle cx="104.9" cy="357.2" r="1.75"/><circle cx="136.9" cy="364.0" r="1.75"/><circle cx="146.4" cy="373.5" r="1.75"/><circle cx="138.8" cy="365.6" r="1.75"/><circle cx="147.9" cy="373.7" r="1.75"/><circle cx="154.2" cy="374.1" r="1.75"/><circle cx="137.0" cy="358.3" r="1.75"/><circle cx="153.7" cy="356.5" r="1.75"/><circle cx="140.9" cy="369.7" r="1.75"/><circle cx="143.0" cy="362.8" r="1.75"/><circle cx="153.5" cy="361.0" r="1.75"/><circle cx="143.6" cy="371.6" r="1.75"/><circle cx="132.7" cy="362.0" r="1.75"/><circle cx="142.1" cy="366.3" r="1.75"/><circle cx="134.5" cy="364.1" r="1.75"/><circle cx="130.6" cy="356.8" r="1.75"/><circle cx="138.1" cy="357.9" r="1.75"/><circle cx="154.6" cy="360.3" r="1.75"/><circle cx="136.3" cy="370.7" r="1.75"/><circle cx="148.6" cy="360.2" r="1.75"/><circle cx="151.0" cy="367.5" r="1.75"/><circle cx="139.3" cy="367.6" r="1.75"/><circle cx="135.5" cy="360.3" r="1.75"/><circle cx="152.2" cy="363.8" r="1.75"/><circle cx="152.8" cy="358.5" r="1.75"/><circle cx="132.6" cy="356.0" r="1.75"/><circle cx="167.7" cy="368.0" r="1.75"/><circle cx="179.1" cy="369.4" r="1.75"/><circle cx="157.3" cy="367.9" r="1.75"/><circle cx="177.9" cy="357.4" r="1.75"/><circle cx="175.5" cy="360.2" r="1.75"/><circle cx="163.4" cy="355.0" r="1.75"/><circle cx="175.6" cy="365.3" r="1.75"/><circle cx="179.4" cy="364.3" r="1.75"/><circle cx="159.6" cy="359.3" r="1.75"/><circle cx="162.5" cy="373.9" r="1.75"/><circle cx="160.9" cy="356.8" r="1.75"/><circle cx="164.8" cy="356.6" r="1.75"/><circle cx="166.8" cy="367.4" r="1.75"/><circle cx="172.7" cy="358.5" r="1.75"/><circle cx="159.2" cy="364.8" r="1.75"/><circle cx="173.7" cy="363.9" r="1.75"/><circle cx="170.7" cy="373.2" r="1.75"/><circle cx="159.3" cy="360.4" r="1.75"/><circle cx="168.6" cy="365.7" r="1.75"/><circle cx="179.4" cy="366.1" r="1.75"/><circle cx="173.1" cy="363.4" r="1.75"/><circle cx="176.3" cy="371.7" r="1.75"/><circle cx="201.2" cy="360.2" r="1.75"/><circle cx="192.8" cy="361.6" r="1.75"/><circle cx="184.5" cy="356.3" r="1.75"/><circle cx="201.0" cy="363.2" r="1.75"/><circle cx="205.0" cy="356.3" r="1.75"/><circle cx="190.0" cy="358.6" r="1.75"/><circle cx="207.0" cy="370.8" r="1.75"/><circle cx="205.8" cy="365.1" r="1.75"/><circle cx="184.8" cy="363.3" r="1.75"/><circle cx="188.0" cy="355.5" r="1.75"/><circle cx="197.0" cy="360.8" r="1.75"/><circle cx="184.9" cy="365.2" r="1.75"/><circle cx="206.7" cy="373.9" r="1.75"/><circle cx="194.4" cy="357.1" r="1.75"/><circle cx="202.4" cy="357.3" r="1.75"/><circle cx="196.2" cy="356.7" r="1.75"/><circle cx="208.2" cy="365.9" r="1.75"/><circle cx="193.6" cy="360.4" r="1.75"/><circle cx="196.6" cy="374.1" r="1.75"/><circle cx="193.3" cy="359.2" r="1.75"/><circle cx="195.6" cy="373.4" r="1.75"/><circle cx="192.1" cy="367.7" r="1.75"/><circle cx="206.3" cy="361.5" r="1.75"/><circle cx="203.5" cy="365.6" r="1.75"/><circle cx="185.7" cy="356.1" r="1.75"/><circle cx="206.9" cy="364.3" r="1.75"/><circle cx="193.7" cy="373.4" r="1.75"/><circle cx="211.2" cy="374.1" r="1.75"/><circle cx="212.0" cy="358.4" r="1.75"/><circle cx="210.9" cy="363.9" r="1.75"/><circle cx="224.9" cy="372.1" r="1.75"/><circle cx="212.8" cy="369.0" r="1.75"/><circle cx="211.3" cy="366.6" r="1.75"/><circle cx="215.2" cy="362.1" r="1.75"/><circle cx="209.9" cy="369.4" r="1.75"/><circle cx="211.7" cy="370.3" r="1.75"/><circle cx="217.4" cy="366.8" r="1.75"/><circle cx="225.4" cy="364.8" r="1.75"/><circle cx="231.7" cy="373.4" r="1.75"/><circle cx="216.0" cy="361.7" r="1.75"/><circle cx="231.7" cy="357.7" r="1.75"/><circle cx="219.6" cy="363.3" r="1.75"/><circle cx="234.1" cy="357.6" r="1.75"/><circle cx="225.9" cy="370.1" r="1.75"/><circle cx="227.8" cy="355.0" r="1.75"/><circle cx="233.5" cy="361.2" r="1.75"/><circle cx="231.1" cy="368.2" r="1.75"/><circle cx="219.7" cy="371.8" r="1.75"/><circle cx="226.4" cy="361.8" r="1.75"/><circle cx="227.9" cy="365.1" r="1.75"/><circle cx="227.4" cy="367.3" r="1.75"/><circle cx="229.6" cy="358.2" r="1.75"/><circle cx="221.6" cy="355.0" r="1.75"/><circle cx="229.5" cy="370.4" r="1.75"/><circle cx="230.7" cy="355.9" r="1.75"/><circle cx="222.7" cy="364.6" r="1.75"/><circle cx="211.7" cy="359.1" r="1.75"/></g><g fill="#2c2049"><circle cx="39.5" cy="229.8" r="1.6"/><circle cx="44.1" cy="233.8" r="1.6"/><circle cx="42.6" cy="233.4" r="1.6"/><circle cx="73.4" cy="217.3" r="1.6"/><circle cx="107.9" cy="233.8" r="1.6"/><circle cx="120.8" cy="234.3" r="1.6"/><circle cx="126.2" cy="221.0" r="1.6"/><circle cx="137.4" cy="224.6" r="1.6"/><circle cx="164.6" cy="222.1" r="1.6"/><circle cx="169.4" cy="230.5" r="1.6"/><circle cx="158.4" cy="230.0" r="1.6"/><circle cx="198.2" cy="233.4" r="1.6"/><circle cx="31.4" cy="238.5" r="1.6"/><circle cx="25.1" cy="238.0" r="1.6"/><circle cx="41.3" cy="254.9" r="1.6"/><circle cx="27.3" cy="236.0" r="1.6"/><circle cx="61.6" cy="243.4" r="1.6"/><circle cx="92.7" cy="250.8" r="1.6"/><circle cx="78.8" cy="243.7" r="1.6"/><circle cx="80.0" cy="251.9" r="1.6"/><circle cx="127.9" cy="247.5" r="1.6"/><circle cx="115.7" cy="241.8" r="1.6"/><circle cx="104.9" cy="240.4" r="1.6"/><circle cx="123.2" cy="252.3" r="1.6"/><circle cx="129.3" cy="245.9" r="1.6"/><circle cx="135.6" cy="248.4" r="1.6"/><circle cx="141.3" cy="251.3" r="1.6"/><circle cx="173.8" cy="249.4" r="1.6"/><circle cx="174.9" cy="238.4" r="1.6"/><circle cx="176.2" cy="246.6" r="1.6"/><circle cx="198.9" cy="249.4" r="1.6"/><circle cx="209.2" cy="238.2" r="1.6"/><circle cx="24.4" cy="257.7" r="1.6"/><circle cx="31.4" cy="258.6" r="1.6"/><circle cx="28.1" cy="255.7" r="1.6"/><circle cx="65.8" cy="256.9" r="1.6"/><circle cx="63.9" cy="261.8" r="1.6"/><circle cx="64.9" cy="274.2" r="1.6"/><circle cx="101.4" cy="274.4" r="1.6"/><circle cx="135.0" cy="260.8" r="1.6"/><circle cx="154.8" cy="262.6" r="1.6"/><circle cx="154.5" cy="273.3" r="1.6"/><circle cx="144.8" cy="260.2" r="1.6"/><circle cx="155.0" cy="264.9" r="1.6"/><circle cx="158.7" cy="267.4" r="1.6"/><circle cx="229.2" cy="259.9" r="1.6"/><circle cx="39.1" cy="284.5" r="1.6"/><circle cx="40.1" cy="287.1" r="1.6"/><circle cx="42.7" cy="277.4" r="1.6"/><circle cx="73.0" cy="285.9" r="1.6"/><circle cx="49.9" cy="290.6" r="1.6"/><circle cx="60.8" cy="286.5" r="1.6"/><circle cx="83.6" cy="290.6" r="1.6"/><circle cx="100.1" cy="277.9" r="1.6"/><circle cx="88.7" cy="286.0" r="1.6"/><circle cx="89.2" cy="281.6" r="1.6"/><circle cx="123.5" cy="288.3" r="1.6"/><circle cx="103.2" cy="289.5" r="1.6"/><circle cx="128.4" cy="295.0" r="1.6"/><circle cx="166.5" cy="278.2" r="1.6"/><circle cx="172.0" cy="275.9" r="1.6"/><circle cx="158.4" cy="282.6" r="1.6"/><circle cx="193.4" cy="281.3" r="1.6"/><circle cx="224.4" cy="284.8" r="1.6"/><circle cx="47.9" cy="302.5" r="1.6"/><circle cx="24.5" cy="308.9" r="1.6"/><circle cx="27.0" cy="307.6" r="1.6"/><circle cx="63.2" cy="297.7" r="1.6"/><circle cx="55.7" cy="302.4" r="1.6"/><circle cx="69.0" cy="298.6" r="1.6"/><circle cx="99.2" cy="304.6" r="1.6"/><circle cx="127.7" cy="308.6" r="1.6"/><circle cx="145.6" cy="302.1" r="1.6"/><circle cx="135.2" cy="301.7" r="1.6"/><circle cx="145.3" cy="302.0" r="1.6"/><circle cx="175.1" cy="302.9" r="1.6"/><circle cx="158.1" cy="295.7" r="1.6"/><circle cx="160.9" cy="295.8" r="1.6"/><circle cx="198.4" cy="303.6" r="1.6"/><circle cx="194.3" cy="297.0" r="1.6"/><circle cx="186.1" cy="298.2" r="1.6"/><circle cx="214.7" cy="304.6" r="1.6"/><circle cx="209.4" cy="313.5" r="1.6"/><circle cx="218.3" cy="313.8" r="1.6"/><circle cx="26.1" cy="328.4" r="1.6"/><circle cx="59.2" cy="321.2" r="1.6"/><circle cx="93.1" cy="323.6" r="1.6"/><circle cx="101.8" cy="315.1" r="1.6"/><circle cx="77.6" cy="330.6" r="1.6"/><circle cx="126.3" cy="324.8" r="1.6"/><circle cx="109.0" cy="316.0" r="1.6"/><circle cx="133.8" cy="325.2" r="1.6"/><circle cx="139.7" cy="325.6" r="1.6"/><circle cx="131.9" cy="325.8" r="1.6"/><circle cx="177.4" cy="319.5" r="1.6"/><circle cx="158.6" cy="321.2" r="1.6"/><circle cx="157.8" cy="330.4" r="1.6"/><circle cx="187.3" cy="320.7" r="1.6"/><circle cx="191.9" cy="317.0" r="1.6"/><circle cx="193.1" cy="321.3" r="1.6"/><circle cx="225.9" cy="334.1" r="1.6"/><circle cx="57.1" cy="336.3" r="1.6"/><circle cx="69.7" cy="346.1" r="1.6"/><circle cx="50.2" cy="336.0" r="1.6"/><circle cx="92.2" cy="339.6" r="1.6"/><circle cx="87.4" cy="342.2" r="1.6"/><circle cx="84.8" cy="335.2" r="1.6"/><circle cx="109.8" cy="339.0" r="1.6"/><circle cx="117.4" cy="342.1" r="1.6"/><circle cx="122.4" cy="339.8" r="1.6"/><circle cx="111.8" cy="340.0" r="1.6"/><circle cx="128.5" cy="351.8" r="1.6"/><circle cx="125.0" cy="347.4" r="1.6"/><circle cx="138.6" cy="346.9" r="1.6"/><circle cx="147.0" cy="345.4" r="1.6"/><circle cx="136.5" cy="336.6" r="1.6"/><circle cx="131.3" cy="342.1" r="1.6"/><circle cx="144.4" cy="350.2" r="1.6"/><circle cx="147.9" cy="341.1" r="1.6"/><circle cx="163.6" cy="340.4" r="1.6"/><circle cx="172.0" cy="352.9" r="1.6"/><circle cx="159.9" cy="347.7" r="1.6"/><circle cx="175.8" cy="339.5" r="1.6"/><circle cx="157.2" cy="346.3" r="1.6"/><circle cx="177.5" cy="352.6" r="1.6"/><circle cx="186.0" cy="347.3" r="1.6"/><circle cx="184.8" cy="350.2" r="1.6"/><circle cx="201.5" cy="351.3" r="1.6"/><circle cx="203.3" cy="349.3" r="1.6"/><circle cx="206.5" cy="354.1" r="1.6"/><circle cx="198.6" cy="354.3" r="1.6"/><circle cx="229.4" cy="346.5" r="1.6"/><circle cx="216.3" cy="341.7" r="1.6"/><circle cx="231.0" cy="345.4" r="1.6"/><circle cx="209.8" cy="343.4" r="1.6"/><circle cx="214.8" cy="348.3" r="1.6"/><circle cx="210.4" cy="340.4" r="1.6"/><circle cx="33.2" cy="373.7" r="1.6"/><circle cx="89.5" cy="356.1" r="1.6"/><circle cx="86.4" cy="370.6" r="1.6"/><circle cx="87.5" cy="366.9" r="1.6"/><circle cx="119.6" cy="362.5" r="1.6"/><circle cx="112.3" cy="364.6" r="1.6"/><circle cx="117.9" cy="374.1" r="1.6"/><circle cx="108.9" cy="366.4" r="1.6"/><circle cx="109.5" cy="365.9" r="1.6"/><circle cx="121.9" cy="357.7" r="1.6"/><circle cx="115.3" cy="369.1" r="1.6"/><circle cx="102.7" cy="370.4" r="1.6"/><circle cx="113.6" cy="365.1" r="1.6"/><circle cx="118.7" cy="370.9" r="1.6"/><circle cx="104.0" cy="365.0" r="1.6"/><circle cx="103.5" cy="362.7" r="1.6"/><circle cx="111.7" cy="355.4" r="1.6"/><circle cx="148.6" cy="366.2" r="1.6"/><circle cx="129.3" cy="355.9" r="1.6"/><circle cx="150.8" cy="364.9" r="1.6"/><circle cx="152.1" cy="355.8" r="1.6"/><circle cx="144.6" cy="357.3" r="1.6"/><circle cx="148.1" cy="367.2" r="1.6"/><circle cx="145.2" cy="359.4" r="1.6"/><circle cx="154.1" cy="357.2" r="1.6"/><circle cx="130.7" cy="368.7" r="1.6"/><circle cx="131.5" cy="356.3" r="1.6"/><circle cx="163.3" cy="357.2" r="1.6"/><circle cx="162.4" cy="362.2" r="1.6"/><circle cx="179.1" cy="360.3" r="1.6"/><circle cx="172.2" cy="367.8" r="1.6"/><circle cx="180.8" cy="357.3" r="1.6"/><circle cx="175.9" cy="361.7" r="1.6"/><circle cx="158.2" cy="367.6" r="1.6"/><circle cx="177.9" cy="366.6" r="1.6"/><circle cx="156.8" cy="374.1" r="1.6"/><circle cx="165.7" cy="367.7" r="1.6"/><circle cx="197.2" cy="365.0" r="1.6"/><circle cx="189.5" cy="369.9" r="1.6"/><circle cx="188.8" cy="364.4" r="1.6"/><circle cx="202.1" cy="367.1" r="1.6"/><circle cx="185.6" cy="359.1" r="1.6"/><circle cx="200.4" cy="369.6" r="1.6"/><circle cx="234.1" cy="372.1" r="1.6"/><circle cx="214.8" cy="371.6" r="1.6"/><circle cx="225.8" cy="362.7" r="1.6"/><circle cx="225.6" cy="359.6" r="1.6"/><circle cx="215.8" cy="355.2" r="1.6"/><circle cx="225.9" cy="366.6" r="1.6"/></g></g><text x="25.7" y="220.6" font-size="5.6" fill="#111" textLength="19.7" lengthAdjust="spacingAndGlyphs">100 µm</text><rect x="24" y="222.4" width="21.6" height="1.3" fill="#000"/></g>
<g clip-path="url(#cE)"><rect x="287" y="215.5" width="209" height="157.5" fill="#d6d6d6"/><rect x="287" y="215.5" width="209" height="157.5" filter="url(#fE1)"/><rect x="287" y="215.5" width="209" height="157.5" filter="url(#fE2)" mask="url(#mE)"/><g filter="url(#bl05)"><g fill="#b89ccb"><circle cx="303.3" cy="250.6" r="1.45"/><circle cx="317.4" cy="244.3" r="1.45"/><circle cx="334.7" cy="267.9" r="1.45"/><circle cx="310.8" cy="270.5" r="1.45"/><circle cx="306.8" cy="289.4" r="1.45"/><circle cx="293.6" cy="277.8" r="1.45"/><circle cx="334.3" cy="277.4" r="1.45"/><circle cx="337.4" cy="270.2" r="1.45"/><circle cx="315.3" cy="277.5" r="1.45"/><circle cx="298.8" cy="314.3" r="1.45"/><circle cx="287.9" cy="299.7" r="1.45"/><circle cx="300.7" cy="302.8" r="1.45"/><circle cx="325.4" cy="309.7" r="1.45"/><circle cx="313.3" cy="307.8" r="1.45"/><circle cx="337.6" cy="303.0" r="1.45"/><circle cx="326.1" cy="318.9" r="1.45"/><circle cx="350.6" cy="309.6" r="1.45"/><circle cx="310.4" cy="337.5" r="1.45"/><circle cx="290.1" cy="335.0" r="1.45"/><circle cx="291.0" cy="343.8" r="1.45"/><circle cx="322.5" cy="337.9" r="1.45"/><circle cx="315.7" cy="323.1" r="1.45"/><circle cx="323.9" cy="341.2" r="1.45"/><circle cx="332.9" cy="330.6" r="1.45"/><circle cx="359.3" cy="341.1" r="1.45"/><circle cx="362.2" cy="330.2" r="1.45"/><circle cx="305.3" cy="359.6" r="1.45"/><circle cx="297.9" cy="353.9" r="1.45"/><circle cx="335.5" cy="357.6" r="1.45"/><circle cx="324.1" cy="354.0" r="1.45"/><circle cx="317.2" cy="351.1" r="1.45"/><circle cx="345.3" cy="370.2" r="1.45"/><circle cx="364.6" cy="364.1" r="1.45"/><circle cx="384.7" cy="347.7" r="1.45"/></g><g fill="#aa1c2e"><circle cx="299.1" cy="225.3" r="1.5"/><circle cx="290.6" cy="238.2" r="1.5"/><circle cx="287.9" cy="228.7" r="1.5"/><circle cx="331.5" cy="227.4" r="1.5"/><circle cx="332.1" cy="219.6" r="1.5"/><circle cx="319.3" cy="218.4" r="1.5"/><circle cx="326.4" cy="239.8" r="1.5"/><circle cx="328.5" cy="235.8" r="1.5"/><circle cx="323.1" cy="235.1" r="1.5"/><circle cx="315.8" cy="223.1" r="1.5"/><circle cx="362.2" cy="216.9" r="1.5"/><circle cx="349.1" cy="228.4" r="1.5"/><circle cx="339.9" cy="226.6" r="1.5"/><circle cx="362.9" cy="218.4" r="1.5"/><circle cx="354.8" cy="218.7" r="1.5"/><circle cx="354.4" cy="239.0" r="1.5"/><circle cx="344.6" cy="216.4" r="1.5"/><circle cx="341.4" cy="229.7" r="1.5"/><circle cx="339.7" cy="217.7" r="1.5"/><circle cx="352.2" cy="239.7" r="1.5"/><circle cx="350.2" cy="226.0" r="1.5"/><circle cx="355.9" cy="218.0" r="1.5"/><circle cx="354.4" cy="220.0" r="1.5"/><circle cx="366.5" cy="225.1" r="1.5"/><circle cx="383.0" cy="231.0" r="1.5"/><circle cx="385.6" cy="217.8" r="1.5"/><circle cx="374.4" cy="238.2" r="1.5"/><circle cx="380.6" cy="227.3" r="1.5"/><circle cx="375.9" cy="241.4" r="1.5"/><circle cx="380.4" cy="216.4" r="1.5"/><circle cx="386.3" cy="224.1" r="1.5"/><circle cx="376.7" cy="221.1" r="1.5"/><circle cx="377.0" cy="224.0" r="1.5"/><circle cx="367.7" cy="232.0" r="1.5"/><circle cx="368.1" cy="236.1" r="1.5"/><circle cx="408.9" cy="220.0" r="1.5"/><circle cx="413.5" cy="222.3" r="1.5"/><circle cx="392.8" cy="241.1" r="1.5"/><circle cx="396.0" cy="240.3" r="1.5"/><circle cx="417.3" cy="231.4" r="1.5"/><circle cx="391.8" cy="217.1" r="1.5"/><circle cx="396.9" cy="225.7" r="1.5"/><circle cx="407.5" cy="240.9" r="1.5"/><circle cx="400.8" cy="219.2" r="1.5"/><circle cx="406.2" cy="219.1" r="1.5"/><circle cx="420.2" cy="216.8" r="1.5"/><circle cx="431.4" cy="220.0" r="1.5"/><circle cx="434.1" cy="217.7" r="1.5"/><circle cx="438.0" cy="221.3" r="1.5"/><circle cx="418.0" cy="220.1" r="1.5"/><circle cx="429.6" cy="230.2" r="1.5"/><circle cx="427.8" cy="220.0" r="1.5"/><circle cx="430.2" cy="240.3" r="1.5"/><circle cx="431.6" cy="240.2" r="1.5"/><circle cx="418.4" cy="241.6" r="1.5"/><circle cx="440.8" cy="229.8" r="1.5"/><circle cx="431.3" cy="229.6" r="1.5"/><circle cx="449.8" cy="237.1" r="1.5"/><circle cx="462.8" cy="231.9" r="1.5"/><circle cx="466.6" cy="216.4" r="1.5"/><circle cx="459.3" cy="231.6" r="1.5"/><circle cx="461.5" cy="226.2" r="1.5"/><circle cx="445.6" cy="220.5" r="1.5"/><circle cx="459.6" cy="220.3" r="1.5"/><circle cx="445.4" cy="224.8" r="1.5"/><circle cx="456.0" cy="229.6" r="1.5"/><circle cx="444.4" cy="235.9" r="1.5"/><circle cx="472.8" cy="218.7" r="1.5"/><circle cx="494.4" cy="241.1" r="1.5"/><circle cx="479.6" cy="235.0" r="1.5"/><circle cx="482.1" cy="229.2" r="1.5"/><circle cx="479.5" cy="232.2" r="1.5"/><circle cx="476.0" cy="222.2" r="1.5"/><circle cx="483.4" cy="220.7" r="1.5"/><circle cx="481.4" cy="240.3" r="1.5"/><circle cx="470.5" cy="218.2" r="1.5"/><circle cx="490.8" cy="217.0" r="1.5"/><circle cx="476.4" cy="237.9" r="1.5"/><circle cx="485.7" cy="221.3" r="1.5"/><circle cx="312.3" cy="244.2" r="1.5"/><circle cx="295.3" cy="248.2" r="1.5"/><circle cx="302.8" cy="254.7" r="1.5"/><circle cx="296.1" cy="263.7" r="1.5"/><circle cx="297.4" cy="247.2" r="1.5"/><circle cx="294.2" cy="253.9" r="1.5"/><circle cx="302.9" cy="256.7" r="1.5"/><circle cx="324.8" cy="257.7" r="1.5"/><circle cx="333.0" cy="264.9" r="1.5"/><circle cx="332.3" cy="247.3" r="1.5"/><circle cx="327.3" cy="250.6" r="1.5"/><circle cx="313.6" cy="256.3" r="1.5"/><circle cx="325.4" cy="264.5" r="1.5"/><circle cx="321.6" cy="263.6" r="1.5"/><circle cx="356.2" cy="252.1" r="1.5"/><circle cx="362.5" cy="255.0" r="1.5"/><circle cx="342.8" cy="259.9" r="1.5"/><circle cx="348.6" cy="248.8" r="1.5"/><circle cx="347.6" cy="251.9" r="1.5"/><circle cx="344.0" cy="257.8" r="1.5"/><circle cx="361.9" cy="256.7" r="1.5"/><circle cx="339.5" cy="259.7" r="1.5"/><circle cx="339.8" cy="254.3" r="1.5"/><circle cx="361.9" cy="259.5" r="1.5"/><circle cx="363.0" cy="261.6" r="1.5"/><circle cx="346.4" cy="245.5" r="1.5"/><circle cx="351.0" cy="259.6" r="1.5"/><circle cx="345.3" cy="250.4" r="1.5"/><circle cx="358.8" cy="250.9" r="1.5"/><circle cx="387.5" cy="268.0" r="1.5"/><circle cx="389.8" cy="260.5" r="1.5"/><circle cx="378.3" cy="243.3" r="1.5"/><circle cx="386.5" cy="252.2" r="1.5"/><circle cx="377.5" cy="258.3" r="1.5"/><circle cx="390.6" cy="256.3" r="1.5"/><circle cx="389.4" cy="267.1" r="1.5"/><circle cx="367.6" cy="251.1" r="1.5"/><circle cx="388.6" cy="261.9" r="1.5"/><circle cx="390.7" cy="246.6" r="1.5"/><circle cx="379.3" cy="266.2" r="1.5"/><circle cx="379.5" cy="259.3" r="1.5"/><circle cx="390.8" cy="246.3" r="1.5"/><circle cx="366.9" cy="264.2" r="1.5"/><circle cx="380.6" cy="247.0" r="1.5"/><circle cx="406.7" cy="263.9" r="1.5"/><circle cx="412.1" cy="266.0" r="1.5"/><circle cx="395.5" cy="251.7" r="1.5"/><circle cx="416.6" cy="252.2" r="1.5"/><circle cx="399.0" cy="254.4" r="1.5"/><circle cx="396.2" cy="264.0" r="1.5"/><circle cx="408.1" cy="244.2" r="1.5"/><circle cx="416.7" cy="255.4" r="1.5"/><circle cx="398.1" cy="257.8" r="1.5"/><circle cx="416.3" cy="250.9" r="1.5"/><circle cx="391.9" cy="246.9" r="1.5"/><circle cx="393.0" cy="255.6" r="1.5"/><circle cx="418.1" cy="263.8" r="1.5"/><circle cx="436.2" cy="251.1" r="1.5"/><circle cx="432.2" cy="260.3" r="1.5"/><circle cx="419.6" cy="260.3" r="1.5"/><circle cx="436.1" cy="266.5" r="1.5"/><circle cx="419.2" cy="256.8" r="1.5"/><circle cx="430.9" cy="264.0" r="1.5"/><circle cx="427.1" cy="259.1" r="1.5"/><circle cx="441.1" cy="250.9" r="1.5"/><circle cx="431.1" cy="265.2" r="1.5"/><circle cx="418.5" cy="267.3" r="1.5"/><circle cx="425.8" cy="253.8" r="1.5"/><circle cx="425.1" cy="262.7" r="1.5"/><circle cx="460.6" cy="252.9" r="1.5"/><circle cx="444.2" cy="253.2" r="1.5"/><circle cx="453.9" cy="266.6" r="1.5"/><circle cx="469.2" cy="266.9" r="1.5"/><circle cx="469.4" cy="246.2" r="1.5"/><circle cx="444.5" cy="249.4" r="1.5"/><circle cx="444.0" cy="244.9" r="1.5"/><circle cx="458.8" cy="247.0" r="1.5"/><circle cx="459.7" cy="251.7" r="1.5"/><circle cx="450.9" cy="267.2" r="1.5"/><circle cx="448.6" cy="264.9" r="1.5"/><circle cx="457.5" cy="259.2" r="1.5"/><circle cx="472.2" cy="252.5" r="1.5"/><circle cx="490.2" cy="260.8" r="1.5"/><circle cx="471.8" cy="254.3" r="1.5"/><circle cx="485.2" cy="255.7" r="1.5"/><circle cx="473.8" cy="258.7" r="1.5"/><circle cx="488.1" cy="255.8" r="1.5"/><circle cx="494.4" cy="256.9" r="1.5"/><circle cx="470.2" cy="249.2" r="1.5"/><circle cx="488.2" cy="243.8" r="1.5"/><circle cx="495.1" cy="260.1" r="1.5"/><circle cx="489.9" cy="246.2" r="1.5"/><circle cx="470.1" cy="264.7" r="1.5"/><circle cx="483.2" cy="253.4" r="1.5"/><circle cx="483.4" cy="261.9" r="1.5"/><circle cx="479.6" cy="262.0" r="1.5"/><circle cx="288.8" cy="278.8" r="1.5"/><circle cx="298.8" cy="289.4" r="1.5"/><circle cx="298.8" cy="269.1" r="1.5"/><circle cx="292.5" cy="289.8" r="1.5"/><circle cx="310.1" cy="283.1" r="1.5"/><circle cx="318.9" cy="286.6" r="1.5"/><circle cx="338.6" cy="287.5" r="1.5"/><circle cx="326.0" cy="282.1" r="1.5"/><circle cx="323.8" cy="286.8" r="1.5"/><circle cx="320.2" cy="274.4" r="1.5"/><circle cx="331.3" cy="274.7" r="1.5"/><circle cx="338.9" cy="287.1" r="1.5"/><circle cx="317.9" cy="268.6" r="1.5"/><circle cx="351.4" cy="277.6" r="1.5"/><circle cx="345.0" cy="279.8" r="1.5"/><circle cx="362.6" cy="292.6" r="1.5"/><circle cx="355.6" cy="274.7" r="1.5"/><circle cx="354.5" cy="272.1" r="1.5"/><circle cx="340.9" cy="288.9" r="1.5"/><circle cx="346.2" cy="272.2" r="1.5"/><circle cx="360.7" cy="271.2" r="1.5"/><circle cx="345.4" cy="272.0" r="1.5"/><circle cx="362.6" cy="285.9" r="1.5"/><circle cx="344.0" cy="269.9" r="1.5"/><circle cx="362.9" cy="271.4" r="1.5"/><circle cx="357.9" cy="286.1" r="1.5"/><circle cx="354.6" cy="280.6" r="1.5"/><circle cx="350.1" cy="275.4" r="1.5"/><circle cx="356.1" cy="272.0" r="1.5"/><circle cx="374.2" cy="268.5" r="1.5"/><circle cx="371.5" cy="270.2" r="1.5"/><circle cx="365.6" cy="278.5" r="1.5"/><circle cx="365.5" cy="280.6" r="1.5"/><circle cx="387.6" cy="286.7" r="1.5"/><circle cx="366.7" cy="287.1" r="1.5"/><circle cx="370.3" cy="289.2" r="1.5"/><circle cx="382.2" cy="282.3" r="1.5"/><circle cx="376.8" cy="293.7" r="1.5"/><circle cx="370.9" cy="291.6" r="1.5"/><circle cx="370.7" cy="270.5" r="1.5"/><circle cx="371.0" cy="269.0" r="1.5"/><circle cx="387.1" cy="272.9" r="1.5"/><circle cx="380.3" cy="275.2" r="1.5"/><circle cx="374.7" cy="288.6" r="1.5"/><circle cx="400.6" cy="269.9" r="1.5"/><circle cx="396.6" cy="271.7" r="1.5"/><circle cx="410.6" cy="286.1" r="1.5"/><circle cx="405.4" cy="276.3" r="1.5"/><circle cx="410.5" cy="279.7" r="1.5"/><circle cx="404.4" cy="273.2" r="1.5"/><circle cx="417.5" cy="279.6" r="1.5"/><circle cx="403.8" cy="273.5" r="1.5"/><circle cx="403.2" cy="280.4" r="1.5"/><circle cx="402.6" cy="287.5" r="1.5"/><circle cx="400.3" cy="284.4" r="1.5"/><circle cx="409.0" cy="271.6" r="1.5"/><circle cx="413.0" cy="269.8" r="1.5"/><circle cx="436.5" cy="283.5" r="1.5"/><circle cx="419.4" cy="292.6" r="1.5"/><circle cx="443.4" cy="278.9" r="1.5"/><circle cx="427.1" cy="291.0" r="1.5"/><circle cx="435.0" cy="287.6" r="1.5"/><circle cx="422.4" cy="287.1" r="1.5"/><circle cx="429.2" cy="269.5" r="1.5"/><circle cx="418.9" cy="274.9" r="1.5"/><circle cx="423.7" cy="275.0" r="1.5"/><circle cx="441.4" cy="278.4" r="1.5"/><circle cx="423.1" cy="270.8" r="1.5"/><circle cx="419.1" cy="278.7" r="1.5"/><circle cx="428.6" cy="270.1" r="1.5"/><circle cx="453.0" cy="278.2" r="1.5"/><circle cx="460.3" cy="277.1" r="1.5"/><circle cx="456.4" cy="285.8" r="1.5"/><circle cx="467.9" cy="293.1" r="1.5"/><circle cx="453.4" cy="278.1" r="1.5"/><circle cx="469.6" cy="290.0" r="1.5"/><circle cx="466.7" cy="271.0" r="1.5"/><circle cx="451.3" cy="279.1" r="1.5"/><circle cx="451.8" cy="280.2" r="1.5"/><circle cx="468.4" cy="278.2" r="1.5"/><circle cx="457.0" cy="276.5" r="1.5"/><circle cx="459.1" cy="282.3" r="1.5"/><circle cx="448.5" cy="269.6" r="1.5"/><circle cx="470.2" cy="290.3" r="1.5"/><circle cx="495.0" cy="281.1" r="1.5"/><circle cx="489.7" cy="285.4" r="1.5"/><circle cx="487.0" cy="278.3" r="1.5"/><circle cx="494.9" cy="276.1" r="1.5"/><circle cx="472.5" cy="269.4" r="1.5"/><circle cx="490.5" cy="288.5" r="1.5"/><circle cx="492.2" cy="289.0" r="1.5"/><circle cx="475.8" cy="277.5" r="1.5"/><circle cx="477.2" cy="290.7" r="1.5"/><circle cx="469.9" cy="276.0" r="1.5"/><circle cx="486.9" cy="284.7" r="1.5"/><circle cx="470.0" cy="271.0" r="1.5"/><circle cx="305.8" cy="295.6" r="1.5"/><circle cx="301.0" cy="307.4" r="1.5"/><circle cx="303.2" cy="297.1" r="1.5"/><circle cx="305.5" cy="296.4" r="1.5"/><circle cx="288.2" cy="295.6" r="1.5"/><circle cx="312.6" cy="298.5" r="1.5"/><circle cx="304.9" cy="295.7" r="1.5"/><circle cx="315.3" cy="301.7" r="1.5"/><circle cx="313.8" cy="294.6" r="1.5"/><circle cx="335.1" cy="302.5" r="1.5"/><circle cx="331.8" cy="300.7" r="1.5"/><circle cx="332.4" cy="317.4" r="1.5"/><circle cx="362.1" cy="319.3" r="1.5"/><circle cx="341.6" cy="320.5" r="1.5"/><circle cx="347.9" cy="303.7" r="1.5"/><circle cx="344.1" cy="315.4" r="1.5"/><circle cx="354.6" cy="306.3" r="1.5"/><circle cx="352.2" cy="307.7" r="1.5"/><circle cx="354.5" cy="298.2" r="1.5"/><circle cx="358.0" cy="301.1" r="1.5"/><circle cx="339.8" cy="319.4" r="1.5"/><circle cx="341.8" cy="315.3" r="1.5"/><circle cx="359.3" cy="305.5" r="1.5"/><circle cx="355.2" cy="300.6" r="1.5"/><circle cx="389.7" cy="312.2" r="1.5"/><circle cx="377.7" cy="319.7" r="1.5"/><circle cx="382.0" cy="314.6" r="1.5"/><circle cx="379.9" cy="314.1" r="1.5"/><circle cx="385.6" cy="307.4" r="1.5"/><circle cx="377.5" cy="299.5" r="1.5"/><circle cx="382.4" cy="313.3" r="1.5"/><circle cx="376.1" cy="296.0" r="1.5"/><circle cx="383.8" cy="311.3" r="1.5"/><circle cx="382.3" cy="298.3" r="1.5"/><circle cx="388.5" cy="313.4" r="1.5"/><circle cx="386.3" cy="298.1" r="1.5"/><circle cx="372.5" cy="308.2" r="1.5"/><circle cx="415.4" cy="316.2" r="1.5"/><circle cx="399.3" cy="311.4" r="1.5"/><circle cx="414.3" cy="294.5" r="1.5"/><circle cx="393.4" cy="320.2" r="1.5"/><circle cx="393.9" cy="318.1" r="1.5"/><circle cx="401.4" cy="300.7" r="1.5"/><circle cx="401.3" cy="317.4" r="1.5"/><circle cx="408.4" cy="297.5" r="1.5"/><circle cx="413.0" cy="303.3" r="1.5"/><circle cx="413.1" cy="307.4" r="1.5"/><circle cx="414.0" cy="308.7" r="1.5"/><circle cx="400.7" cy="320.3" r="1.5"/><circle cx="417.1" cy="308.6" r="1.5"/><circle cx="429.1" cy="316.4" r="1.5"/><circle cx="429.0" cy="314.0" r="1.5"/><circle cx="437.3" cy="307.5" r="1.5"/><circle cx="429.8" cy="300.4" r="1.5"/><circle cx="435.5" cy="317.0" r="1.5"/><circle cx="443.0" cy="315.3" r="1.5"/><circle cx="442.9" cy="309.6" r="1.5"/><circle cx="429.4" cy="320.0" r="1.5"/><circle cx="435.2" cy="296.1" r="1.5"/><circle cx="439.9" cy="309.9" r="1.5"/><circle cx="440.0" cy="304.9" r="1.5"/><circle cx="434.1" cy="309.9" r="1.5"/><circle cx="433.7" cy="317.4" r="1.5"/><circle cx="458.0" cy="294.9" r="1.5"/><circle cx="452.4" cy="297.4" r="1.5"/><circle cx="459.6" cy="302.2" r="1.5"/><circle cx="459.7" cy="303.1" r="1.5"/><circle cx="444.9" cy="300.2" r="1.5"/><circle cx="468.1" cy="306.1" r="1.5"/><circle cx="461.1" cy="308.4" r="1.5"/><circle cx="455.8" cy="312.2" r="1.5"/><circle cx="467.4" cy="310.8" r="1.5"/><circle cx="464.4" cy="303.4" r="1.5"/><circle cx="451.0" cy="294.5" r="1.5"/><circle cx="457.7" cy="295.9" r="1.5"/><circle cx="450.8" cy="306.4" r="1.5"/><circle cx="453.5" cy="299.7" r="1.5"/><circle cx="454.7" cy="318.4" r="1.5"/><circle cx="480.6" cy="302.2" r="1.5"/><circle cx="486.0" cy="316.7" r="1.5"/><circle cx="478.3" cy="309.2" r="1.5"/><circle cx="470.7" cy="300.5" r="1.5"/><circle cx="480.8" cy="311.0" r="1.5"/><circle cx="492.8" cy="317.5" r="1.5"/><circle cx="483.2" cy="301.1" r="1.5"/><circle cx="491.4" cy="316.5" r="1.5"/><circle cx="490.6" cy="311.8" r="1.5"/><circle cx="486.4" cy="304.6" r="1.5"/><circle cx="484.8" cy="303.9" r="1.5"/><circle cx="488.3" cy="317.3" r="1.5"/><circle cx="477.8" cy="313.6" r="1.5"/><circle cx="288.1" cy="324.8" r="1.5"/><circle cx="294.4" cy="333.9" r="1.5"/><circle cx="306.0" cy="321.4" r="1.5"/><circle cx="287.9" cy="331.3" r="1.5"/><circle cx="293.0" cy="339.3" r="1.5"/><circle cx="308.2" cy="344.3" r="1.5"/><circle cx="312.8" cy="345.8" r="1.5"/><circle cx="293.3" cy="335.4" r="1.5"/><circle cx="290.4" cy="334.8" r="1.5"/><circle cx="305.3" cy="337.1" r="1.5"/><circle cx="319.7" cy="321.8" r="1.5"/><circle cx="324.9" cy="326.7" r="1.5"/><circle cx="335.7" cy="325.2" r="1.5"/><circle cx="316.2" cy="330.3" r="1.5"/><circle cx="324.6" cy="334.7" r="1.5"/><circle cx="345.9" cy="335.6" r="1.5"/><circle cx="350.9" cy="327.0" r="1.5"/><circle cx="342.6" cy="322.0" r="1.5"/><circle cx="341.6" cy="340.9" r="1.5"/><circle cx="364.2" cy="341.6" r="1.5"/><circle cx="356.8" cy="332.2" r="1.5"/><circle cx="346.5" cy="333.1" r="1.5"/><circle cx="349.8" cy="342.3" r="1.5"/><circle cx="378.1" cy="320.9" r="1.5"/><circle cx="388.3" cy="335.7" r="1.5"/><circle cx="369.1" cy="329.4" r="1.5"/><circle cx="375.5" cy="333.0" r="1.5"/><circle cx="373.3" cy="327.5" r="1.5"/><circle cx="379.0" cy="340.3" r="1.5"/><circle cx="377.7" cy="332.2" r="1.5"/><circle cx="375.4" cy="345.1" r="1.5"/><circle cx="385.2" cy="338.6" r="1.5"/><circle cx="366.9" cy="340.5" r="1.5"/><circle cx="376.7" cy="338.7" r="1.5"/><circle cx="377.6" cy="322.6" r="1.5"/><circle cx="414.8" cy="338.3" r="1.5"/><circle cx="410.3" cy="344.6" r="1.5"/><circle cx="395.7" cy="331.0" r="1.5"/><circle cx="405.6" cy="334.4" r="1.5"/><circle cx="417.3" cy="326.7" r="1.5"/><circle cx="398.6" cy="340.9" r="1.5"/><circle cx="412.2" cy="328.9" r="1.5"/><circle cx="392.9" cy="333.6" r="1.5"/><circle cx="406.2" cy="343.0" r="1.5"/><circle cx="406.5" cy="334.8" r="1.5"/><circle cx="411.9" cy="337.9" r="1.5"/><circle cx="407.9" cy="321.0" r="1.5"/><circle cx="432.2" cy="322.5" r="1.5"/><circle cx="423.7" cy="336.5" r="1.5"/><circle cx="417.9" cy="326.5" r="1.5"/><circle cx="427.2" cy="323.3" r="1.5"/><circle cx="442.3" cy="334.1" r="1.5"/><circle cx="427.1" cy="330.1" r="1.5"/><circle cx="420.5" cy="336.3" r="1.5"/><circle cx="435.1" cy="340.1" r="1.5"/><circle cx="440.2" cy="343.2" r="1.5"/><circle cx="427.4" cy="326.5" r="1.5"/><circle cx="420.0" cy="338.7" r="1.5"/><circle cx="434.4" cy="323.4" r="1.5"/><circle cx="436.4" cy="343.8" r="1.5"/><circle cx="448.4" cy="335.2" r="1.5"/><circle cx="451.9" cy="327.7" r="1.5"/><circle cx="465.3" cy="338.9" r="1.5"/><circle cx="466.9" cy="320.6" r="1.5"/><circle cx="464.8" cy="332.9" r="1.5"/><circle cx="456.9" cy="344.6" r="1.5"/><circle cx="457.4" cy="344.1" r="1.5"/><circle cx="464.5" cy="322.3" r="1.5"/><circle cx="466.4" cy="328.6" r="1.5"/><circle cx="457.8" cy="333.9" r="1.5"/><circle cx="460.2" cy="322.2" r="1.5"/><circle cx="457.4" cy="338.0" r="1.5"/><circle cx="451.2" cy="341.2" r="1.5"/><circle cx="478.7" cy="338.5" r="1.5"/><circle cx="477.1" cy="345.9" r="1.5"/><circle cx="490.3" cy="343.7" r="1.5"/><circle cx="487.5" cy="339.7" r="1.5"/><circle cx="476.5" cy="324.1" r="1.5"/><circle cx="472.4" cy="337.1" r="1.5"/><circle cx="493.5" cy="330.1" r="1.5"/><circle cx="484.0" cy="327.5" r="1.5"/><circle cx="487.0" cy="344.1" r="1.5"/><circle cx="488.6" cy="333.1" r="1.5"/><circle cx="493.6" cy="332.1" r="1.5"/><circle cx="494.7" cy="341.9" r="1.5"/><circle cx="488.8" cy="338.0" r="1.5"/><circle cx="311.6" cy="357.8" r="1.5"/><circle cx="295.0" cy="348.6" r="1.5"/><circle cx="307.7" cy="367.0" r="1.5"/><circle cx="287.9" cy="360.2" r="1.5"/><circle cx="305.1" cy="356.0" r="1.5"/><circle cx="290.0" cy="356.5" r="1.5"/><circle cx="302.4" cy="359.4" r="1.5"/><circle cx="303.4" cy="346.8" r="1.5"/><circle cx="315.3" cy="355.1" r="1.5"/><circle cx="327.8" cy="371.7" r="1.5"/><circle cx="317.7" cy="370.0" r="1.5"/><circle cx="333.7" cy="366.3" r="1.5"/><circle cx="325.6" cy="359.4" r="1.5"/><circle cx="347.3" cy="351.7" r="1.5"/><circle cx="354.9" cy="366.7" r="1.5"/><circle cx="353.1" cy="354.3" r="1.5"/><circle cx="345.2" cy="358.8" r="1.5"/><circle cx="343.6" cy="357.6" r="1.5"/><circle cx="343.4" cy="365.4" r="1.5"/><circle cx="358.9" cy="349.3" r="1.5"/><circle cx="343.4" cy="355.3" r="1.5"/><circle cx="381.5" cy="349.5" r="1.5"/><circle cx="367.7" cy="357.8" r="1.5"/><circle cx="375.3" cy="365.0" r="1.5"/><circle cx="389.8" cy="358.9" r="1.5"/><circle cx="384.0" cy="372.1" r="1.5"/><circle cx="371.1" cy="347.9" r="1.5"/><circle cx="368.7" cy="367.0" r="1.5"/><circle cx="380.0" cy="365.4" r="1.5"/><circle cx="390.8" cy="350.1" r="1.5"/><circle cx="380.9" cy="359.8" r="1.5"/><circle cx="377.5" cy="359.9" r="1.5"/><circle cx="379.7" cy="367.2" r="1.5"/><circle cx="408.7" cy="348.3" r="1.5"/><circle cx="395.9" cy="358.5" r="1.5"/><circle cx="410.4" cy="365.3" r="1.5"/><circle cx="402.6" cy="360.1" r="1.5"/><circle cx="408.0" cy="348.0" r="1.5"/><circle cx="402.4" cy="359.4" r="1.5"/><circle cx="391.8" cy="360.3" r="1.5"/><circle cx="404.7" cy="365.2" r="1.5"/><circle cx="394.8" cy="368.2" r="1.5"/><circle cx="408.3" cy="355.7" r="1.5"/><circle cx="392.3" cy="368.6" r="1.5"/><circle cx="408.4" cy="372.1" r="1.5"/><circle cx="430.7" cy="372.1" r="1.5"/><circle cx="424.7" cy="365.8" r="1.5"/><circle cx="431.0" cy="357.7" r="1.5"/><circle cx="430.5" cy="372.1" r="1.5"/><circle cx="421.1" cy="361.9" r="1.5"/><circle cx="426.9" cy="350.3" r="1.5"/><circle cx="425.9" cy="370.1" r="1.5"/><circle cx="429.7" cy="358.5" r="1.5"/><circle cx="442.6" cy="347.7" r="1.5"/><circle cx="432.8" cy="370.7" r="1.5"/><circle cx="443.6" cy="355.0" r="1.5"/><circle cx="425.7" cy="365.9" r="1.5"/><circle cx="455.8" cy="348.2" r="1.5"/><circle cx="459.5" cy="371.1" r="1.5"/><circle cx="468.5" cy="367.8" r="1.5"/><circle cx="466.5" cy="351.5" r="1.5"/><circle cx="464.9" cy="356.1" r="1.5"/><circle cx="451.7" cy="357.2" r="1.5"/><circle cx="468.0" cy="365.4" r="1.5"/><circle cx="461.8" cy="355.1" r="1.5"/><circle cx="462.4" cy="352.3" r="1.5"/><circle cx="455.5" cy="368.0" r="1.5"/><circle cx="476.3" cy="353.8" r="1.5"/><circle cx="474.8" cy="364.2" r="1.5"/><circle cx="471.4" cy="367.5" r="1.5"/><circle cx="489.2" cy="353.2" r="1.5"/><circle cx="479.2" cy="363.0" r="1.5"/><circle cx="494.9" cy="349.9" r="1.5"/><circle cx="489.9" cy="354.3" r="1.5"/><circle cx="490.0" cy="365.9" r="1.5"/><circle cx="479.4" cy="351.4" r="1.5"/><circle cx="478.9" cy="364.5" r="1.5"/><circle cx="486.3" cy="352.2" r="1.5"/><circle cx="476.5" cy="356.8" r="1.5"/></g><g fill="#251c4c"><circle cx="310.5" cy="217.6" r="1.4"/><circle cx="301.5" cy="231.7" r="1.4"/><circle cx="288.1" cy="225.4" r="1.4"/><circle cx="330.7" cy="234.5" r="1.4"/><circle cx="324.1" cy="217.8" r="1.4"/><circle cx="320.1" cy="221.0" r="1.4"/><circle cx="320.5" cy="236.7" r="1.4"/><circle cx="318.3" cy="238.8" r="1.4"/><circle cx="355.2" cy="240.7" r="1.4"/><circle cx="340.7" cy="230.1" r="1.4"/><circle cx="355.1" cy="219.4" r="1.4"/><circle cx="346.3" cy="241.6" r="1.4"/><circle cx="365.3" cy="218.7" r="1.4"/><circle cx="357.7" cy="240.5" r="1.4"/><circle cx="345.4" cy="231.5" r="1.4"/><circle cx="366.0" cy="236.0" r="1.4"/><circle cx="386.5" cy="228.6" r="1.4"/><circle cx="383.9" cy="222.0" r="1.4"/><circle cx="384.6" cy="226.7" r="1.4"/><circle cx="371.4" cy="240.8" r="1.4"/><circle cx="375.8" cy="225.3" r="1.4"/><circle cx="387.8" cy="225.2" r="1.4"/><circle cx="393.8" cy="230.1" r="1.4"/><circle cx="409.7" cy="217.2" r="1.4"/><circle cx="403.3" cy="234.0" r="1.4"/><circle cx="411.5" cy="225.6" r="1.4"/><circle cx="414.7" cy="219.9" r="1.4"/><circle cx="410.2" cy="235.8" r="1.4"/><circle cx="414.5" cy="228.5" r="1.4"/><circle cx="441.4" cy="217.2" r="1.4"/><circle cx="434.4" cy="229.7" r="1.4"/><circle cx="425.5" cy="234.5" r="1.4"/><circle cx="436.5" cy="218.2" r="1.4"/><circle cx="435.9" cy="227.4" r="1.4"/><circle cx="430.4" cy="232.2" r="1.4"/><circle cx="419.0" cy="231.3" r="1.4"/><circle cx="427.4" cy="238.6" r="1.4"/><circle cx="452.5" cy="236.0" r="1.4"/><circle cx="444.0" cy="240.5" r="1.4"/><circle cx="459.2" cy="241.1" r="1.4"/><circle cx="469.5" cy="237.4" r="1.4"/><circle cx="446.5" cy="224.7" r="1.4"/><circle cx="449.8" cy="236.0" r="1.4"/><circle cx="448.8" cy="221.3" r="1.4"/><circle cx="471.4" cy="222.7" r="1.4"/><circle cx="477.7" cy="236.5" r="1.4"/><circle cx="495.1" cy="236.1" r="1.4"/><circle cx="493.4" cy="239.9" r="1.4"/><circle cx="492.8" cy="239.6" r="1.4"/><circle cx="298.5" cy="246.6" r="1.4"/><circle cx="297.5" cy="250.3" r="1.4"/><circle cx="291.5" cy="256.0" r="1.4"/><circle cx="291.9" cy="260.4" r="1.4"/><circle cx="304.2" cy="245.4" r="1.4"/><circle cx="326.6" cy="244.4" r="1.4"/><circle cx="331.9" cy="249.2" r="1.4"/><circle cx="327.1" cy="243.6" r="1.4"/><circle cx="313.4" cy="265.9" r="1.4"/><circle cx="314.2" cy="245.7" r="1.4"/><circle cx="354.9" cy="256.1" r="1.4"/><circle cx="363.5" cy="242.4" r="1.4"/><circle cx="344.1" cy="262.2" r="1.4"/><circle cx="356.7" cy="244.3" r="1.4"/><circle cx="342.8" cy="247.3" r="1.4"/><circle cx="353.4" cy="265.4" r="1.4"/><circle cx="344.9" cy="247.1" r="1.4"/><circle cx="357.2" cy="252.9" r="1.4"/><circle cx="387.1" cy="249.2" r="1.4"/><circle cx="368.8" cy="249.6" r="1.4"/><circle cx="366.3" cy="252.4" r="1.4"/><circle cx="385.7" cy="253.7" r="1.4"/><circle cx="390.6" cy="242.9" r="1.4"/><circle cx="369.9" cy="245.5" r="1.4"/><circle cx="380.4" cy="247.0" r="1.4"/><circle cx="382.8" cy="255.5" r="1.4"/><circle cx="399.6" cy="264.1" r="1.4"/><circle cx="396.9" cy="242.1" r="1.4"/><circle cx="403.6" cy="245.0" r="1.4"/><circle cx="399.6" cy="247.7" r="1.4"/><circle cx="396.2" cy="258.5" r="1.4"/><circle cx="416.0" cy="251.5" r="1.4"/><circle cx="408.2" cy="250.2" r="1.4"/><circle cx="415.4" cy="256.3" r="1.4"/><circle cx="392.3" cy="261.2" r="1.4"/><circle cx="397.0" cy="243.0" r="1.4"/><circle cx="431.5" cy="261.4" r="1.4"/><circle cx="420.3" cy="264.9" r="1.4"/><circle cx="439.1" cy="259.6" r="1.4"/><circle cx="423.4" cy="248.6" r="1.4"/><circle cx="429.4" cy="243.5" r="1.4"/><circle cx="442.5" cy="252.5" r="1.4"/><circle cx="442.5" cy="246.6" r="1.4"/><circle cx="434.6" cy="262.7" r="1.4"/><circle cx="447.5" cy="261.3" r="1.4"/><circle cx="467.0" cy="247.0" r="1.4"/><circle cx="456.1" cy="258.9" r="1.4"/><circle cx="456.2" cy="261.5" r="1.4"/><circle cx="460.6" cy="250.0" r="1.4"/><circle cx="461.5" cy="262.0" r="1.4"/><circle cx="455.9" cy="257.2" r="1.4"/><circle cx="460.3" cy="254.3" r="1.4"/><circle cx="474.1" cy="267.5" r="1.4"/><circle cx="488.1" cy="250.1" r="1.4"/><circle cx="482.3" cy="264.9" r="1.4"/><circle cx="478.4" cy="260.1" r="1.4"/><circle cx="493.6" cy="267.0" r="1.4"/><circle cx="476.6" cy="262.6" r="1.4"/><circle cx="485.8" cy="263.0" r="1.4"/><circle cx="289.1" cy="288.3" r="1.4"/><circle cx="309.6" cy="275.5" r="1.4"/><circle cx="299.6" cy="275.6" r="1.4"/><circle cx="288.4" cy="287.3" r="1.4"/><circle cx="291.2" cy="270.3" r="1.4"/><circle cx="328.8" cy="271.5" r="1.4"/><circle cx="326.2" cy="283.8" r="1.4"/><circle cx="334.2" cy="278.2" r="1.4"/><circle cx="327.4" cy="289.4" r="1.4"/><circle cx="316.6" cy="276.8" r="1.4"/><circle cx="351.7" cy="274.8" r="1.4"/><circle cx="348.9" cy="291.4" r="1.4"/><circle cx="354.1" cy="284.9" r="1.4"/><circle cx="356.2" cy="268.0" r="1.4"/><circle cx="359.7" cy="291.0" r="1.4"/><circle cx="358.7" cy="281.7" r="1.4"/><circle cx="361.3" cy="292.8" r="1.4"/><circle cx="346.5" cy="272.3" r="1.4"/><circle cx="379.7" cy="275.0" r="1.4"/><circle cx="384.8" cy="271.8" r="1.4"/><circle cx="366.4" cy="286.2" r="1.4"/><circle cx="387.6" cy="288.1" r="1.4"/><circle cx="383.6" cy="292.4" r="1.4"/><circle cx="389.6" cy="282.9" r="1.4"/><circle cx="370.0" cy="283.2" r="1.4"/><circle cx="376.5" cy="286.6" r="1.4"/><circle cx="398.2" cy="289.8" r="1.4"/><circle cx="394.6" cy="275.2" r="1.4"/><circle cx="402.3" cy="292.8" r="1.4"/><circle cx="416.8" cy="273.7" r="1.4"/><circle cx="408.2" cy="289.8" r="1.4"/><circle cx="404.9" cy="276.3" r="1.4"/><circle cx="395.5" cy="269.8" r="1.4"/><circle cx="392.7" cy="269.3" r="1.4"/><circle cx="431.1" cy="277.0" r="1.4"/><circle cx="418.1" cy="280.4" r="1.4"/><circle cx="421.7" cy="272.7" r="1.4"/><circle cx="437.3" cy="279.3" r="1.4"/><circle cx="427.0" cy="282.6" r="1.4"/><circle cx="436.8" cy="284.5" r="1.4"/><circle cx="442.4" cy="286.8" r="1.4"/><circle cx="426.5" cy="293.0" r="1.4"/><circle cx="418.0" cy="272.9" r="1.4"/><circle cx="420.8" cy="278.0" r="1.4"/><circle cx="463.4" cy="289.8" r="1.4"/><circle cx="452.6" cy="273.2" r="1.4"/><circle cx="446.4" cy="284.4" r="1.4"/><circle cx="458.9" cy="292.6" r="1.4"/><circle cx="461.5" cy="283.1" r="1.4"/><circle cx="459.3" cy="291.9" r="1.4"/><circle cx="467.8" cy="272.4" r="1.4"/><circle cx="446.9" cy="271.4" r="1.4"/><circle cx="474.3" cy="273.8" r="1.4"/><circle cx="483.2" cy="268.8" r="1.4"/><circle cx="491.5" cy="280.2" r="1.4"/><circle cx="486.9" cy="277.5" r="1.4"/><circle cx="492.0" cy="270.7" r="1.4"/><circle cx="492.5" cy="274.5" r="1.4"/><circle cx="483.3" cy="282.8" r="1.4"/><circle cx="487.4" cy="282.2" r="1.4"/><circle cx="302.8" cy="300.0" r="1.4"/><circle cx="302.7" cy="313.6" r="1.4"/><circle cx="304.7" cy="308.4" r="1.4"/><circle cx="305.7" cy="294.3" r="1.4"/><circle cx="288.4" cy="300.5" r="1.4"/><circle cx="313.6" cy="310.1" r="1.4"/><circle cx="336.9" cy="314.4" r="1.4"/><circle cx="316.3" cy="313.4" r="1.4"/><circle cx="332.8" cy="298.5" r="1.4"/><circle cx="330.3" cy="310.6" r="1.4"/><circle cx="318.3" cy="315.8" r="1.4"/><circle cx="335.5" cy="296.2" r="1.4"/><circle cx="344.9" cy="317.4" r="1.4"/><circle cx="358.8" cy="314.4" r="1.4"/><circle cx="351.2" cy="295.2" r="1.4"/><circle cx="359.5" cy="319.4" r="1.4"/><circle cx="347.5" cy="310.7" r="1.4"/><circle cx="343.1" cy="319.5" r="1.4"/><circle cx="357.8" cy="295.9" r="1.4"/><circle cx="357.6" cy="312.0" r="1.4"/><circle cx="365.5" cy="319.8" r="1.4"/><circle cx="369.9" cy="298.2" r="1.4"/><circle cx="386.1" cy="300.4" r="1.4"/><circle cx="380.4" cy="311.3" r="1.4"/><circle cx="370.7" cy="295.6" r="1.4"/><circle cx="383.7" cy="317.2" r="1.4"/><circle cx="386.5" cy="297.0" r="1.4"/><circle cx="374.1" cy="306.1" r="1.4"/><circle cx="366.2" cy="317.5" r="1.4"/><circle cx="387.0" cy="319.7" r="1.4"/><circle cx="405.2" cy="310.1" r="1.4"/><circle cx="409.1" cy="301.4" r="1.4"/><circle cx="415.8" cy="305.3" r="1.4"/><circle cx="417.5" cy="309.3" r="1.4"/><circle cx="415.5" cy="318.4" r="1.4"/><circle cx="398.7" cy="295.2" r="1.4"/><circle cx="406.7" cy="309.3" r="1.4"/><circle cx="400.3" cy="303.5" r="1.4"/><circle cx="398.7" cy="296.7" r="1.4"/><circle cx="403.5" cy="308.0" r="1.4"/><circle cx="427.9" cy="311.9" r="1.4"/><circle cx="442.2" cy="296.6" r="1.4"/><circle cx="440.0" cy="312.4" r="1.4"/><circle cx="429.1" cy="295.3" r="1.4"/><circle cx="430.5" cy="298.6" r="1.4"/><circle cx="422.7" cy="307.5" r="1.4"/><circle cx="434.0" cy="318.7" r="1.4"/><circle cx="434.1" cy="314.4" r="1.4"/><circle cx="458.4" cy="311.6" r="1.4"/><circle cx="469.8" cy="311.1" r="1.4"/><circle cx="468.6" cy="312.5" r="1.4"/><circle cx="464.9" cy="310.2" r="1.4"/><circle cx="469.9" cy="308.7" r="1.4"/><circle cx="452.5" cy="311.4" r="1.4"/><circle cx="446.2" cy="305.4" r="1.4"/><circle cx="468.4" cy="298.1" r="1.4"/><circle cx="472.5" cy="296.6" r="1.4"/><circle cx="474.8" cy="301.9" r="1.4"/><circle cx="481.2" cy="304.5" r="1.4"/><circle cx="493.5" cy="295.7" r="1.4"/><circle cx="492.5" cy="300.6" r="1.4"/><circle cx="477.7" cy="306.5" r="1.4"/><circle cx="481.5" cy="309.2" r="1.4"/><circle cx="470.7" cy="309.9" r="1.4"/><circle cx="312.7" cy="330.4" r="1.4"/><circle cx="298.1" cy="344.2" r="1.4"/><circle cx="307.9" cy="325.4" r="1.4"/><circle cx="297.3" cy="340.8" r="1.4"/><circle cx="288.6" cy="341.9" r="1.4"/><circle cx="338.3" cy="331.0" r="1.4"/><circle cx="336.0" cy="323.9" r="1.4"/><circle cx="325.7" cy="343.9" r="1.4"/><circle cx="335.0" cy="337.3" r="1.4"/><circle cx="315.4" cy="346.7" r="1.4"/><circle cx="364.4" cy="331.1" r="1.4"/><circle cx="346.5" cy="339.7" r="1.4"/><circle cx="363.3" cy="346.0" r="1.4"/><circle cx="364.8" cy="341.4" r="1.4"/><circle cx="360.9" cy="332.9" r="1.4"/><circle cx="357.4" cy="326.1" r="1.4"/><circle cx="365.3" cy="326.7" r="1.4"/><circle cx="379.7" cy="339.6" r="1.4"/><circle cx="369.8" cy="336.6" r="1.4"/><circle cx="372.4" cy="320.8" r="1.4"/><circle cx="366.6" cy="330.7" r="1.4"/><circle cx="371.8" cy="325.2" r="1.4"/><circle cx="374.0" cy="341.1" r="1.4"/><circle cx="378.8" cy="335.5" r="1.4"/><circle cx="389.0" cy="326.8" r="1.4"/><circle cx="410.0" cy="332.0" r="1.4"/><circle cx="405.7" cy="334.7" r="1.4"/><circle cx="411.9" cy="324.8" r="1.4"/><circle cx="414.4" cy="324.2" r="1.4"/><circle cx="412.9" cy="342.7" r="1.4"/><circle cx="392.4" cy="335.0" r="1.4"/><circle cx="413.0" cy="328.8" r="1.4"/><circle cx="395.5" cy="345.2" r="1.4"/><circle cx="397.3" cy="346.6" r="1.4"/><circle cx="400.4" cy="345.3" r="1.4"/><circle cx="418.4" cy="337.0" r="1.4"/><circle cx="438.0" cy="339.9" r="1.4"/><circle cx="424.8" cy="330.4" r="1.4"/><circle cx="419.8" cy="326.3" r="1.4"/><circle cx="432.8" cy="344.0" r="1.4"/><circle cx="426.5" cy="337.9" r="1.4"/><circle cx="442.1" cy="339.2" r="1.4"/><circle cx="423.2" cy="329.2" r="1.4"/><circle cx="442.0" cy="320.9" r="1.4"/><circle cx="430.5" cy="330.1" r="1.4"/><circle cx="457.2" cy="332.4" r="1.4"/><circle cx="448.7" cy="324.8" r="1.4"/><circle cx="453.0" cy="333.1" r="1.4"/><circle cx="468.1" cy="338.6" r="1.4"/><circle cx="448.0" cy="326.7" r="1.4"/><circle cx="467.7" cy="321.3" r="1.4"/><circle cx="468.1" cy="341.6" r="1.4"/><circle cx="466.3" cy="325.4" r="1.4"/><circle cx="465.8" cy="333.3" r="1.4"/><circle cx="455.2" cy="327.6" r="1.4"/><circle cx="480.3" cy="330.6" r="1.4"/><circle cx="478.7" cy="338.3" r="1.4"/><circle cx="492.7" cy="326.1" r="1.4"/><circle cx="482.7" cy="328.2" r="1.4"/><circle cx="477.7" cy="325.8" r="1.4"/><circle cx="492.4" cy="332.4" r="1.4"/><circle cx="490.8" cy="325.0" r="1.4"/><circle cx="489.4" cy="335.3" r="1.4"/><circle cx="299.2" cy="357.1" r="1.4"/><circle cx="310.6" cy="368.1" r="1.4"/><circle cx="310.3" cy="358.7" r="1.4"/><circle cx="306.1" cy="364.2" r="1.4"/><circle cx="310.2" cy="356.8" r="1.4"/><circle cx="328.5" cy="366.9" r="1.4"/><circle cx="336.3" cy="347.0" r="1.4"/><circle cx="336.4" cy="367.9" r="1.4"/><circle cx="336.0" cy="354.8" r="1.4"/><circle cx="321.2" cy="369.0" r="1.4"/><circle cx="344.7" cy="370.5" r="1.4"/><circle cx="351.5" cy="347.3" r="1.4"/><circle cx="348.5" cy="364.0" r="1.4"/><circle cx="363.1" cy="355.8" r="1.4"/><circle cx="363.2" cy="351.4" r="1.4"/><circle cx="345.7" cy="365.4" r="1.4"/><circle cx="354.8" cy="357.0" r="1.4"/><circle cx="342.7" cy="360.6" r="1.4"/><circle cx="378.8" cy="368.3" r="1.4"/><circle cx="374.6" cy="370.5" r="1.4"/><circle cx="380.5" cy="364.9" r="1.4"/><circle cx="378.5" cy="365.0" r="1.4"/><circle cx="377.2" cy="365.1" r="1.4"/><circle cx="386.9" cy="347.1" r="1.4"/><circle cx="377.6" cy="355.2" r="1.4"/><circle cx="367.3" cy="348.2" r="1.4"/><circle cx="417.0" cy="353.4" r="1.4"/><circle cx="407.7" cy="359.6" r="1.4"/><circle cx="411.9" cy="357.8" r="1.4"/><circle cx="406.1" cy="348.2" r="1.4"/><circle cx="415.7" cy="348.2" r="1.4"/><circle cx="403.9" cy="368.1" r="1.4"/><circle cx="397.2" cy="354.2" r="1.4"/><circle cx="408.6" cy="349.0" r="1.4"/><circle cx="429.7" cy="348.2" r="1.4"/><circle cx="421.3" cy="369.6" r="1.4"/><circle cx="432.2" cy="369.6" r="1.4"/><circle cx="438.6" cy="354.7" r="1.4"/><circle cx="428.3" cy="357.3" r="1.4"/><circle cx="430.2" cy="353.5" r="1.4"/><circle cx="427.3" cy="353.3" r="1.4"/><circle cx="426.8" cy="364.1" r="1.4"/><circle cx="469.5" cy="362.1" r="1.4"/><circle cx="458.2" cy="358.0" r="1.4"/><circle cx="446.8" cy="363.3" r="1.4"/><circle cx="459.9" cy="348.2" r="1.4"/><circle cx="452.7" cy="354.9" r="1.4"/><circle cx="467.2" cy="367.6" r="1.4"/><circle cx="451.3" cy="354.7" r="1.4"/><circle cx="452.9" cy="349.9" r="1.4"/><circle cx="470.2" cy="361.7" r="1.4"/><circle cx="492.6" cy="349.0" r="1.4"/><circle cx="471.6" cy="366.1" r="1.4"/><circle cx="488.4" cy="369.4" r="1.4"/><circle cx="482.4" cy="372.1" r="1.4"/><circle cx="492.0" cy="354.6" r="1.4"/><circle cx="479.3" cy="348.0" r="1.4"/><circle cx="483.6" cy="363.4" r="1.4"/></g></g><text x="289.5" y="220.8" font-size="5.6" fill="#111" textLength="19.7" lengthAdjust="spacingAndGlyphs">100 µm</text><rect x="288" y="222.6" width="21.6" height="1.3" fill="#000"/></g>
<text x="8.20" y="17.80" font-size="12.6" text-anchor="start" font-weight="bold" fill="#000" >A</text>
<text x="271.60" y="17.80" font-size="12.6" text-anchor="start" font-weight="bold" fill="#000" >D</text>
<text x="8.60" y="215.00" font-size="12.6" text-anchor="start" font-weight="bold" fill="#000" >B</text>
<text x="272.20" y="215.00" font-size="12.6" text-anchor="start" font-weight="bold" fill="#000" >E</text>
<text x="8.40" y="413.00" font-size="12.6" text-anchor="start" font-weight="bold" fill="#000" >C</text>
<text x="272.00" y="413.00" font-size="12.6" text-anchor="start" font-weight="bold" fill="#000" >F</text>
<circle cx="68.00" cy="184.40" r="3.9" fill="#5f9dd6" stroke="#000" stroke-opacity="0.18" stroke-width="0.7"/>
<text x="74.60" y="186.30" font-size="6.8" fill="#2a2a2a" stroke="#2a2a2a" stroke-width="0.1" textLength="14.0" lengthAdjust="spacingAndGlyphs">CD4</text>
<circle cx="101.00" cy="184.40" r="3.9" fill="#f0e532" stroke="#000" stroke-opacity="0.18" stroke-width="0.7"/>
<text x="107.60" y="186.30" font-size="6.8" fill="#2a2a2a" stroke="#2a2a2a" stroke-width="0.1" textLength="15.7" lengthAdjust="spacingAndGlyphs">PD-1</text>
<circle cx="134.60" cy="184.40" r="3.9" fill="#55288a" stroke="#000" stroke-opacity="0.18" stroke-width="0.7"/>
<text x="141.20" y="186.30" font-size="6.8" fill="#2a2a2a" stroke="#2a2a2a" stroke-width="0.1" textLength="18.0" lengthAdjust="spacingAndGlyphs">CD68</text>
<circle cx="170.30" cy="184.40" r="3.9" fill="#3b6e3c" stroke="#000" stroke-opacity="0.18" stroke-width="0.7"/>
<text x="177.20" y="186.30" font-size="6.8" fill="#2a2a2a" stroke="#2a2a2a" stroke-width="0.1" textLength="19.2" lengthAdjust="spacingAndGlyphs">PD-L1</text>
<circle cx="330.00" cy="184.40" r="3.9" fill="#c8222c" stroke="#000" stroke-opacity="0.18" stroke-width="0.7"/>
<text x="337.20" y="186.30" font-size="6.8" fill="#2a2a2a" stroke="#2a2a2a" stroke-width="0.1" textLength="14.0" lengthAdjust="spacingAndGlyphs">CD8</text>
<circle cx="363.00" cy="184.40" r="3.9" fill="#f0e532" stroke="#000" stroke-opacity="0.18" stroke-width="0.7"/>
<text x="370.20" y="186.30" font-size="6.8" fill="#2a2a2a" stroke="#2a2a2a" stroke-width="0.1" textLength="15.0" lengthAdjust="spacingAndGlyphs">PD-1</text>
<circle cx="397.20" cy="184.40" r="3.9" fill="#55288a" stroke="#000" stroke-opacity="0.18" stroke-width="0.7"/>
<text x="404.00" y="186.30" font-size="6.8" fill="#2a2a2a" stroke="#2a2a2a" stroke-width="0.1" textLength="18.0" lengthAdjust="spacingAndGlyphs">CD68</text>
<circle cx="433.00" cy="184.40" r="3.9" fill="#3b6e3c" stroke="#000" stroke-opacity="0.18" stroke-width="0.7"/>
<text x="440.20" y="186.30" font-size="6.8" fill="#2a2a2a" stroke="#2a2a2a" stroke-width="0.1" textLength="18.9" lengthAdjust="spacingAndGlyphs">PD-L1</text>
<circle cx="34.20" cy="381.50" r="3.7" fill="#3b6e3c" stroke="#000" stroke-opacity="0.18" stroke-width="0.7"/>
<text x="41.40" y="383.60" font-size="6.0" fill="#333" font-weight="bold" textLength="30.5" lengthAdjust="spacingAndGlyphs">PD-1+ CD4+</text>
<circle cx="84.65" cy="381.50" r="3.7" fill="#3a1f66" stroke="#000" stroke-opacity="0.18" stroke-width="0.7"/>
<text x="91.10" y="383.60" font-size="6.0" fill="#333" font-weight="bold" textLength="32.3" lengthAdjust="spacingAndGlyphs">PD-L1+ TAMs</text>
<circle cx="139.00" cy="381.50" r="3.7" fill="#c39fd0" stroke="#000" stroke-opacity="0.18" stroke-width="0.7"/>
<text x="146.60" y="383.60" font-size="6.0" fill="#333" font-weight="bold" textLength="34.5" lengthAdjust="spacingAndGlyphs">PD-L1- TAMs</text>
<circle cx="191.50" cy="381.50" r="3.7" fill="#d2d2d2" stroke="#000" stroke-opacity="0.18" stroke-width="0.7"/>
<text x="199.10" y="383.60" font-size="6.0" fill="#333" font-weight="bold" textLength="28.2" lengthAdjust="spacingAndGlyphs">Other Cells</text>
<circle cx="296.35" cy="381.50" r="3.7" fill="#c8222c" stroke="#000" stroke-opacity="0.18" stroke-width="0.7"/>
<text x="303.60" y="383.60" font-size="6.0" fill="#333" font-weight="bold" textLength="32.1" lengthAdjust="spacingAndGlyphs">PD-1+ CD8+</text>
<circle cx="347.35" cy="381.50" r="3.7" fill="#3a1f66" stroke="#000" stroke-opacity="0.18" stroke-width="0.7"/>
<text x="354.10" y="383.60" font-size="6.0" fill="#333" font-weight="bold" textLength="32.3" lengthAdjust="spacingAndGlyphs">PD-L1+ TAMs</text>
<circle cx="401.35" cy="381.50" r="3.7" fill="#c39fd0" stroke="#000" stroke-opacity="0.18" stroke-width="0.7"/>
<text x="409.00" y="383.60" font-size="6.0" fill="#333" font-weight="bold" textLength="34.4" lengthAdjust="spacingAndGlyphs">PD-L1- TAMs</text>
<circle cx="454.75" cy="381.50" r="3.7" fill="#d2d2d2" stroke="#000" stroke-opacity="0.18" stroke-width="0.7"/>
<text x="461.40" y="383.60" font-size="6.0" fill="#333" font-weight="bold" textLength="28.9" lengthAdjust="spacingAndGlyphs">Other Cells</text>
<rect x="52.40" y="443.82" width="3.6" height="179.68" fill="#990c34"/>
<line x1="54.50" y1="443.82" x2="54.50" y2="429.50" stroke="#262626" stroke-width="1"/>
<line x1="53.00" y1="429.50" x2="56.00" y2="429.50" stroke="#262626" stroke-width="1.1"/>
<rect x="56.00" y="588.03" width="3.6" height="35.47" fill="#35416c"/>
<line x1="57.50" y1="588.03" x2="57.50" y2="585.50" stroke="#262626" stroke-width="1"/>
<line x1="56.00" y1="585.50" x2="59.00" y2="585.50" stroke="#262626" stroke-width="1.1"/>
<text transform="translate(58.30,626.7) rotate(-90)" font-size="6.4" text-anchor="end" fill="#222" stroke="#222" stroke-width="0.14">P3</text>
<rect x="62.65" y="503.13" width="3.6" height="120.37" fill="#990c34"/>
<line x1="64.50" y1="503.13" x2="64.50" y2="501.50" stroke="#262626" stroke-width="1"/>
<line x1="63.00" y1="501.50" x2="66.00" y2="501.50" stroke="#262626" stroke-width="1.1"/>
<rect x="66.25" y="593.26" width="3.6" height="30.24" fill="#35416c"/>
<line x1="68.50" y1="593.26" x2="68.50" y2="592.50" stroke="#262626" stroke-width="1"/>
<line x1="67.00" y1="592.50" x2="70.00" y2="592.50" stroke="#262626" stroke-width="1.1"/>
<text transform="translate(68.55,626.7) rotate(-90)" font-size="6.4" text-anchor="end" fill="#222" stroke="#222" stroke-width="0.14">N12</text>
<rect x="72.90" y="516.16" width="3.6" height="107.34" fill="#990c34"/>
<line x1="74.50" y1="516.16" x2="74.50" y2="507.50" stroke="#262626" stroke-width="1"/>
<line x1="73.00" y1="507.50" x2="76.00" y2="507.50" stroke="#262626" stroke-width="1.1"/>
<rect x="76.50" y="582.56" width="3.6" height="40.94" fill="#35416c"/>
<line x1="78.50" y1="582.56" x2="78.50" y2="580.50" stroke="#262626" stroke-width="1"/>
<line x1="77.00" y1="580.50" x2="80.00" y2="580.50" stroke="#262626" stroke-width="1.1"/>
<text transform="translate(78.80,626.7) rotate(-90)" font-size="6.4" text-anchor="end" fill="#222" stroke="#222" stroke-width="0.14">N3</text>
<rect x="83.15" y="519.76" width="3.6" height="103.74" fill="#990c34"/>
<line x1="84.50" y1="519.76" x2="84.50" y2="512.50" stroke="#262626" stroke-width="1"/>
<line x1="83.00" y1="512.50" x2="86.00" y2="512.50" stroke="#262626" stroke-width="1.1"/>
<rect x="86.75" y="582.56" width="3.6" height="40.94" fill="#35416c"/>
<line x1="88.50" y1="582.56" x2="88.50" y2="579.50" stroke="#262626" stroke-width="1"/>
<line x1="87.00" y1="579.50" x2="90.00" y2="579.50" stroke="#262626" stroke-width="1.1"/>
<text transform="translate(89.05,626.7) rotate(-90)" font-size="6.4" text-anchor="end" fill="#222" stroke="#222" stroke-width="0.14">N2</text>
<rect x="93.40" y="532.09" width="3.6" height="91.41" fill="#990c34"/>
<line x1="95.50" y1="532.09" x2="95.50" y2="518.50" stroke="#262626" stroke-width="1"/>
<line x1="94.00" y1="518.50" x2="97.00" y2="518.50" stroke="#262626" stroke-width="1.1"/>
<rect x="97.00" y="519.76" width="3.6" height="103.74" fill="#35416c"/>
<line x1="98.50" y1="519.76" x2="98.50" y2="504.50" stroke="#262626" stroke-width="1"/>
<line x1="97.00" y1="504.50" x2="100.00" y2="504.50" stroke="#262626" stroke-width="1.1"/>
<text transform="translate(99.30,626.7) rotate(-90)" font-size="6.4" text-anchor="end" fill="#222" stroke="#222" stroke-width="0.14">P1</text>
<rect x="103.65" y="537.32" width="3.6" height="86.18" fill="#990c34"/>
<line x1="105.50" y1="537.32" x2="105.50" y2="534.50" stroke="#262626" stroke-width="1"/>
<line x1="104.00" y1="534.50" x2="107.00" y2="534.50" stroke="#262626" stroke-width="1.1"/>
<rect x="107.25" y="526.04" width="3.6" height="97.46" fill="#35416c"/>
<line x1="109.50" y1="526.04" x2="109.50" y2="524.50" stroke="#262626" stroke-width="1"/>
<line x1="108.00" y1="524.50" x2="111.00" y2="524.50" stroke="#262626" stroke-width="1.1"/>
<text transform="translate(109.55,626.7) rotate(-90)" font-size="6.4" text-anchor="end" fill="#222" stroke="#222" stroke-width="0.14">P8</text>
<rect x="113.90" y="544.53" width="3.6" height="78.97" fill="#990c34"/>
<line x1="115.50" y1="544.53" x2="115.50" y2="540.50" stroke="#262626" stroke-width="1"/>
<line x1="114.00" y1="540.50" x2="117.00" y2="540.50" stroke="#262626" stroke-width="1.1"/>
<rect x="117.50" y="558.02" width="3.6" height="65.48" fill="#35416c"/>
<line x1="119.50" y1="558.02" x2="119.50" y2="555.50" stroke="#262626" stroke-width="1"/>
<line x1="118.00" y1="555.50" x2="121.00" y2="555.50" stroke="#262626" stroke-width="1.1"/>
<text transform="translate(119.80,626.7) rotate(-90)" font-size="6.4" text-anchor="end" fill="#222" stroke="#222" stroke-width="0.14">P5</text>
<rect x="124.15" y="549.88" width="3.6" height="73.62" fill="#990c34"/>
<line x1="125.50" y1="549.88" x2="125.50" y2="545.50" stroke="#262626" stroke-width="1"/>
<line x1="124.00" y1="545.50" x2="127.00" y2="545.50" stroke="#262626" stroke-width="1.1"/>
<rect x="127.75" y="550.81" width="3.6" height="72.69" fill="#35416c"/>
<line x1="129.50" y1="550.81" x2="129.50" y2="545.50" stroke="#262626" stroke-width="1"/>
<line x1="128.00" y1="545.50" x2="131.00" y2="545.50" stroke="#262626" stroke-width="1.1"/>
<text transform="translate(130.05,626.7) rotate(-90)" font-size="6.4" text-anchor="end" fill="#222" stroke="#222" stroke-width="0.14">N8</text>
<rect x="134.40" y="551.98" width="3.6" height="71.52" fill="#990c34"/>
<line x1="136.50" y1="551.98" x2="136.50" y2="551.50" stroke="#262626" stroke-width="1"/>
<line x1="135.00" y1="551.50" x2="138.00" y2="551.50" stroke="#262626" stroke-width="1.1"/>
<rect x="138.00" y="598.26" width="3.6" height="25.24" fill="#35416c"/>
<line x1="139.50" y1="598.26" x2="139.50" y2="597.50" stroke="#262626" stroke-width="1"/>
<line x1="138.00" y1="597.50" x2="141.00" y2="597.50" stroke="#262626" stroke-width="1.1"/>
<text transform="translate(140.30,626.7) rotate(-90)" font-size="6.4" text-anchor="end" fill="#222" stroke="#222" stroke-width="0.14">N6</text>
<rect x="144.65" y="560.58" width="3.6" height="62.92" fill="#990c34"/>
<line x1="146.50" y1="560.58" x2="146.50" y2="559.50" stroke="#262626" stroke-width="1"/>
<line x1="145.00" y1="559.50" x2="148.00" y2="559.50" stroke="#262626" stroke-width="1.1"/>
<rect x="148.25" y="589.89" width="3.6" height="33.61" fill="#35416c"/>
<line x1="150.50" y1="589.89" x2="150.50" y2="588.50" stroke="#262626" stroke-width="1"/>
<line x1="149.00" y1="588.50" x2="152.00" y2="588.50" stroke="#262626" stroke-width="1.1"/>
<text transform="translate(150.55,626.7) rotate(-90)" font-size="6.4" text-anchor="end" fill="#222" stroke="#222" stroke-width="0.14">P2</text>
<rect x="154.90" y="560.35" width="3.6" height="63.15" fill="#990c34"/>
<line x1="156.50" y1="560.35" x2="156.50" y2="556.50" stroke="#262626" stroke-width="1"/>
<line x1="155.00" y1="556.50" x2="158.00" y2="556.50" stroke="#262626" stroke-width="1.1"/>
<rect x="158.50" y="595.94" width="3.6" height="27.56" fill="#35416c"/>
<line x1="160.50" y1="595.94" x2="160.50" y2="593.50" stroke="#262626" stroke-width="1"/>
<line x1="159.00" y1="593.50" x2="162.00" y2="593.50" stroke="#262626" stroke-width="1.1"/>
<text transform="translate(160.80,626.7) rotate(-90)" font-size="6.4" text-anchor="end" fill="#222" stroke="#222" stroke-width="0.14">N11</text>
<rect x="165.15" y="562.91" width="3.6" height="60.59" fill="#990c34"/>
<line x1="166.50" y1="562.91" x2="166.50" y2="562.50" stroke="#262626" stroke-width="1"/>
<line x1="165.00" y1="562.50" x2="168.00" y2="562.50" stroke="#262626" stroke-width="1.1"/>
<rect x="168.75" y="584.66" width="3.6" height="38.84" fill="#35416c"/>
<line x1="170.50" y1="584.66" x2="170.50" y2="583.50" stroke="#262626" stroke-width="1"/>
<line x1="169.00" y1="583.50" x2="172.00" y2="583.50" stroke="#262626" stroke-width="1.1"/>
<text transform="translate(171.05,626.7) rotate(-90)" font-size="6.4" text-anchor="end" fill="#222" stroke="#222" stroke-width="0.14">P10</text>
<rect x="175.40" y="563.49" width="3.6" height="60.01" fill="#990c34"/>
<line x1="177.50" y1="563.49" x2="177.50" y2="560.50" stroke="#262626" stroke-width="1"/>
<line x1="176.00" y1="560.50" x2="179.00" y2="560.50" stroke="#262626" stroke-width="1.1"/>
<rect x="179.00" y="583.14" width="3.6" height="40.36" fill="#35416c"/>
<line x1="180.50" y1="583.14" x2="180.50" y2="581.50" stroke="#262626" stroke-width="1"/>
<line x1="179.00" y1="581.50" x2="182.00" y2="581.50" stroke="#262626" stroke-width="1.1"/>
<text transform="translate(181.30,626.7) rotate(-90)" font-size="6.4" text-anchor="end" fill="#222" stroke="#222" stroke-width="0.14">N14</text>
<rect x="185.65" y="564.07" width="3.6" height="59.43" fill="#990c34"/>
<line x1="187.50" y1="564.07" x2="187.50" y2="559.50" stroke="#262626" stroke-width="1"/>
<line x1="186.00" y1="559.50" x2="189.00" y2="559.50" stroke="#262626" stroke-width="1.1"/>
<rect x="189.25" y="572.44" width="3.6" height="51.06" fill="#35416c"/>
<line x1="191.50" y1="572.44" x2="191.50" y2="568.50" stroke="#262626" stroke-width="1"/>
<line x1="190.00" y1="568.50" x2="193.00" y2="568.50" stroke="#262626" stroke-width="1.1"/>
<text transform="translate(191.55,626.7) rotate(-90)" font-size="6.4" text-anchor="end" fill="#222" stroke="#222" stroke-width="0.14">N9</text>
<rect x="195.90" y="565.35" width="3.6" height="58.15" fill="#990c34"/>
<line x1="197.50" y1="565.35" x2="197.50" y2="563.50" stroke="#262626" stroke-width="1"/>
<line x1="196.00" y1="563.50" x2="199.00" y2="563.50" stroke="#262626" stroke-width="1.1"/>
<rect x="199.50" y="576.17" width="3.6" height="47.33" fill="#35416c"/>
<line x1="201.50" y1="576.17" x2="201.50" y2="573.50" stroke="#262626" stroke-width="1"/>
<line x1="200.00" y1="573.50" x2="203.00" y2="573.50" stroke="#262626" stroke-width="1.1"/>
<text transform="translate(201.80,626.7) rotate(-90)" font-size="6.4" text-anchor="end" fill="#222" stroke="#222" stroke-width="0.14">P4</text>
<rect x="206.15" y="565.00" width="3.6" height="58.50" fill="#990c34"/>
<line x1="207.50" y1="565.00" x2="207.50" y2="564.50" stroke="#262626" stroke-width="1"/>
<line x1="206.00" y1="564.50" x2="209.00" y2="564.50" stroke="#262626" stroke-width="1.1"/>
<rect x="209.75" y="589.19" width="3.6" height="34.31" fill="#35416c"/>
<line x1="211.50" y1="589.19" x2="211.50" y2="588.50" stroke="#262626" stroke-width="1"/>
<line x1="210.00" y1="588.50" x2="213.00" y2="588.50" stroke="#262626" stroke-width="1.1"/>
<text transform="translate(212.95,626.7) rotate(-90)" font-size="9" font-weight="bold" text-anchor="end" fill="#000">*N10</text>
<rect x="216.40" y="566.75" width="3.6" height="56.75" fill="#990c34"/>
<line x1="218.50" y1="566.75" x2="218.50" y2="563.50" stroke="#262626" stroke-width="1"/>
<line x1="217.00" y1="563.50" x2="220.00" y2="563.50" stroke="#262626" stroke-width="1.1"/>
<rect x="220.00" y="583.38" width="3.6" height="40.12" fill="#35416c"/>
<line x1="221.50" y1="583.38" x2="221.50" y2="581.50" stroke="#262626" stroke-width="1"/>
<line x1="220.00" y1="581.50" x2="223.00" y2="581.50" stroke="#262626" stroke-width="1.1"/>
<text transform="translate(222.30,626.7) rotate(-90)" font-size="6.4" text-anchor="end" fill="#222" stroke="#222" stroke-width="0.14">P6</text>
<rect x="226.65" y="572.56" width="3.6" height="50.94" fill="#990c34"/>
<line x1="228.50" y1="572.56" x2="228.50" y2="571.50" stroke="#262626" stroke-width="1"/>
<line x1="227.00" y1="571.50" x2="230.00" y2="571.50" stroke="#262626" stroke-width="1.1"/>
<rect x="230.25" y="597.91" width="3.6" height="25.59" fill="#35416c"/>
<line x1="232.50" y1="597.91" x2="232.50" y2="597.50" stroke="#262626" stroke-width="1"/>
<line x1="231.00" y1="597.50" x2="234.00" y2="597.50" stroke="#262626" stroke-width="1.1"/>
<text transform="translate(232.55,626.7) rotate(-90)" font-size="6.4" text-anchor="end" fill="#222" stroke="#222" stroke-width="0.14">N13</text>
<rect x="236.90" y="578.26" width="3.6" height="45.24" fill="#990c34"/>
<line x1="238.50" y1="578.26" x2="238.50" y2="577.50" stroke="#262626" stroke-width="1"/>
<line x1="237.00" y1="577.50" x2="240.00" y2="577.50" stroke="#262626" stroke-width="1.1"/>
<rect x="240.50" y="577.10" width="3.6" height="46.40" fill="#35416c"/>
<line x1="242.50" y1="577.10" x2="242.50" y2="575.50" stroke="#262626" stroke-width="1"/>
<line x1="241.00" y1="575.50" x2="244.00" y2="575.50" stroke="#262626" stroke-width="1.1"/>
<text transform="translate(242.80,626.7) rotate(-90)" font-size="6.4" text-anchor="end" fill="#222" stroke="#222" stroke-width="0.14">N4</text>
<rect x="247.15" y="589.77" width="3.6" height="33.73" fill="#990c34"/>
<line x1="248.50" y1="589.77" x2="248.50" y2="587.50" stroke="#262626" stroke-width="1"/>
<line x1="247.00" y1="587.50" x2="250.00" y2="587.50" stroke="#262626" stroke-width="1.1"/>
<rect x="250.75" y="573.61" width="3.6" height="49.89" fill="#35416c"/>
<line x1="252.50" y1="573.61" x2="252.50" y2="570.50" stroke="#262626" stroke-width="1"/>
<line x1="251.00" y1="570.50" x2="254.00" y2="570.50" stroke="#262626" stroke-width="1.1"/>
<text transform="translate(253.05,626.7) rotate(-90)" font-size="6.4" text-anchor="end" fill="#222" stroke="#222" stroke-width="0.14">N5</text>
<line x1="44.60" y1="446.30" x2="44.60" y2="624.10" stroke="#000" stroke-width="1.1"/>
<line x1="41.60" y1="623.50" x2="257.70" y2="623.50" stroke="#000" stroke-width="1.2"/>
<line x1="41.20" y1="565.50" x2="44.60" y2="565.50" stroke="#000" stroke-width="1"/>
<line x1="41.20" y1="507.50" x2="44.60" y2="507.50" stroke="#000" stroke-width="1"/>
<line x1="41.20" y1="449.50" x2="44.60" y2="449.50" stroke="#000" stroke-width="1"/>
<text x="38.00" y="625.80" font-size="6.5" text-anchor="end" font-weight="normal" fill="#222" stroke="#222" stroke-width="0.12" >0</text>
<text x="38.00" y="567.65" font-size="6.5" text-anchor="end" font-weight="normal" fill="#222" stroke="#222" stroke-width="0.12" >50</text>
<text x="38.00" y="509.50" font-size="6.5" text-anchor="end" font-weight="normal" fill="#222" stroke="#222" stroke-width="0.12" >100</text>
<text x="38.00" y="451.35" font-size="6.5" text-anchor="end" font-weight="normal" fill="#222" stroke="#222" stroke-width="0.12" >150</text>
<text x="153.10" y="419.20" font-size="8.6" text-anchor="middle" font-weight="normal" fill="#111" stroke="#111" stroke-width="0.12" textLength="188.7" lengthAdjust="spacingAndGlyphs">Distance from PD1+ CD4+ T-cells to PD-L1+/- TAMs</text>
<text x="153.10" y="428.80" font-size="8.6" text-anchor="middle" font-weight="normal" fill="#111" stroke="#111" stroke-width="0.12" textLength="70.3" lengthAdjust="spacingAndGlyphs">Paired t-test : 0.004</text>
<rect x="196.80" y="450.8" width="4.2" height="4.6" fill="#990c34"/>
<rect x="196.80" y="460.6" width="4.2" height="4.4" fill="#35416c"/>
<text x="204.60" y="455.50" font-size="6.9" text-anchor="start" font-weight="normal" fill="#222" stroke="#222" stroke-width="0.12" textLength="43.2" lengthAdjust="spacingAndGlyphs">PD-L1– TAMs</text>
<text x="204.60" y="465.20" font-size="6.9" text-anchor="start" font-weight="normal" fill="#222" stroke="#222" stroke-width="0.12" textLength="43.2" lengthAdjust="spacingAndGlyphs">PD-L1+ TAMs</text>
<text transform="translate(20.60,536.8) rotate(-90)" font-size="9.2" text-anchor="middle" fill="#222" stroke="#222" stroke-width="0.12" textLength="106.5" lengthAdjust="spacingAndGlyphs">Average distance to NN (µm)</text>
<rect x="315.20" y="456.08" width="3.6" height="167.42" fill="#990c34"/>
<line x1="317.50" y1="456.08" x2="317.50" y2="433.50" stroke="#262626" stroke-width="1"/>
<line x1="316.00" y1="433.50" x2="319.00" y2="433.50" stroke="#262626" stroke-width="1.1"/>
<rect x="318.80" y="588.44" width="3.6" height="35.06" fill="#35416c"/>
<line x1="320.50" y1="588.44" x2="320.50" y2="583.50" stroke="#262626" stroke-width="1"/>
<line x1="319.00" y1="583.50" x2="322.00" y2="583.50" stroke="#262626" stroke-width="1.1"/>
<text transform="translate(321.10,626.7) rotate(-90)" font-size="6.4" text-anchor="end" fill="#222" stroke="#222" stroke-width="0.14">P3</text>
<rect x="325.23" y="505.72" width="3.6" height="117.78" fill="#990c34"/>
<line x1="327.50" y1="505.72" x2="327.50" y2="502.50" stroke="#262626" stroke-width="1"/>
<line x1="326.00" y1="502.50" x2="329.00" y2="502.50" stroke="#262626" stroke-width="1.1"/>
<rect x="328.83" y="596.08" width="3.6" height="27.42" fill="#35416c"/>
<line x1="330.50" y1="596.08" x2="330.50" y2="595.50" stroke="#262626" stroke-width="1"/>
<line x1="329.00" y1="595.50" x2="332.00" y2="595.50" stroke="#262626" stroke-width="1.1"/>
<text transform="translate(331.13,626.7) rotate(-90)" font-size="6.4" text-anchor="end" fill="#222" stroke="#222" stroke-width="0.14">N12</text>
<rect x="335.26" y="518.91" width="3.6" height="104.59" fill="#990c34"/>
<line x1="337.50" y1="518.91" x2="337.50" y2="513.50" stroke="#262626" stroke-width="1"/>
<line x1="336.00" y1="513.50" x2="339.00" y2="513.50" stroke="#262626" stroke-width="1.1"/>
<rect x="338.86" y="575.25" width="3.6" height="48.25" fill="#35416c"/>
<line x1="340.50" y1="575.25" x2="340.50" y2="570.50" stroke="#262626" stroke-width="1"/>
<line x1="339.00" y1="570.50" x2="342.00" y2="570.50" stroke="#262626" stroke-width="1.1"/>
<text transform="translate(341.16,626.7) rotate(-90)" font-size="6.4" text-anchor="end" fill="#222" stroke="#222" stroke-width="0.14">N3</text>
<rect x="345.29" y="519.37" width="3.6" height="104.13" fill="#990c34"/>
<line x1="347.50" y1="519.37" x2="347.50" y2="511.50" stroke="#262626" stroke-width="1"/>
<line x1="346.00" y1="511.50" x2="349.00" y2="511.50" stroke="#262626" stroke-width="1.1"/>
<rect x="348.89" y="578.03" width="3.6" height="45.47" fill="#35416c"/>
<line x1="350.50" y1="578.03" x2="350.50" y2="573.50" stroke="#262626" stroke-width="1"/>
<line x1="349.00" y1="573.50" x2="352.00" y2="573.50" stroke="#262626" stroke-width="1.1"/>
<text transform="translate(351.19,626.7) rotate(-90)" font-size="6.4" text-anchor="end" fill="#222" stroke="#222" stroke-width="0.14">N2</text>
<rect x="355.32" y="528.28" width="3.6" height="95.22" fill="#990c34"/>
<line x1="357.50" y1="528.28" x2="357.50" y2="512.50" stroke="#262626" stroke-width="1"/>
<line x1="356.00" y1="512.50" x2="359.00" y2="512.50" stroke="#262626" stroke-width="1.1"/>
<rect x="358.92" y="567.04" width="3.6" height="56.46" fill="#35416c"/>
<line x1="360.50" y1="567.04" x2="360.50" y2="559.50" stroke="#262626" stroke-width="1"/>
<line x1="359.00" y1="559.50" x2="362.00" y2="559.50" stroke="#262626" stroke-width="1.1"/>
<text transform="translate(361.22,626.7) rotate(-90)" font-size="6.4" text-anchor="end" fill="#222" stroke="#222" stroke-width="0.14">N9</text>
<rect x="365.35" y="533.95" width="3.6" height="89.55" fill="#990c34"/>
<line x1="367.50" y1="533.95" x2="367.50" y2="523.50" stroke="#262626" stroke-width="1"/>
<line x1="366.00" y1="523.50" x2="369.00" y2="523.50" stroke="#262626" stroke-width="1.1"/>
<rect x="368.95" y="536.26" width="3.6" height="87.24" fill="#35416c"/>
<line x1="370.50" y1="536.26" x2="370.50" y2="525.50" stroke="#262626" stroke-width="1"/>
<line x1="369.00" y1="525.50" x2="372.00" y2="525.50" stroke="#262626" stroke-width="1.1"/>
<text transform="translate(371.25,626.7) rotate(-90)" font-size="6.4" text-anchor="end" fill="#222" stroke="#222" stroke-width="0.14">P8</text>
<rect x="375.38" y="547.49" width="3.6" height="76.01" fill="#990c34"/>
<line x1="377.50" y1="547.49" x2="377.50" y2="539.50" stroke="#262626" stroke-width="1"/>
<line x1="376.00" y1="539.50" x2="379.00" y2="539.50" stroke="#262626" stroke-width="1.1"/>
<rect x="378.98" y="544.13" width="3.6" height="79.37" fill="#35416c"/>
<line x1="380.50" y1="544.13" x2="380.50" y2="534.50" stroke="#262626" stroke-width="1"/>
<line x1="379.00" y1="534.50" x2="382.00" y2="534.50" stroke="#262626" stroke-width="1.1"/>
<text transform="translate(381.28,626.7) rotate(-90)" font-size="6.4" text-anchor="end" fill="#222" stroke="#222" stroke-width="0.14">P5</text>
<rect x="385.41" y="551.19" width="3.6" height="72.31" fill="#990c34"/>
<line x1="387.50" y1="551.19" x2="387.50" y2="548.50" stroke="#262626" stroke-width="1"/>
<line x1="386.00" y1="548.50" x2="389.00" y2="548.50" stroke="#262626" stroke-width="1.1"/>
<rect x="389.01" y="596.43" width="3.6" height="27.07" fill="#35416c"/>
<line x1="390.50" y1="596.43" x2="390.50" y2="596.50" stroke="#262626" stroke-width="1"/>
<line x1="389.00" y1="596.50" x2="392.00" y2="596.50" stroke="#262626" stroke-width="1.1"/>
<text transform="translate(391.31,626.7) rotate(-90)" font-size="6.4" text-anchor="end" fill="#222" stroke="#222" stroke-width="0.14">N6</text>
<rect x="395.44" y="554.20" width="3.6" height="69.30" fill="#990c34"/>
<line x1="397.50" y1="554.20" x2="397.50" y2="552.50" stroke="#262626" stroke-width="1"/>
<line x1="396.00" y1="552.50" x2="399.00" y2="552.50" stroke="#262626" stroke-width="1.1"/>
<rect x="399.04" y="584.74" width="3.6" height="38.76" fill="#35416c"/>
<line x1="400.50" y1="584.74" x2="400.50" y2="584.50" stroke="#262626" stroke-width="1"/>
<line x1="399.00" y1="584.50" x2="402.00" y2="584.50" stroke="#262626" stroke-width="1.1"/>
<text transform="translate(401.34,626.7) rotate(-90)" font-size="6.4" text-anchor="end" fill="#222" stroke="#222" stroke-width="0.14">N14</text>
<rect x="405.47" y="555.70" width="3.6" height="67.80" fill="#990c34"/>
<line x1="407.50" y1="555.70" x2="407.50" y2="545.50" stroke="#262626" stroke-width="1"/>
<line x1="406.00" y1="545.50" x2="409.00" y2="545.50" stroke="#262626" stroke-width="1.1"/>
<rect x="409.07" y="556.63" width="3.6" height="66.87" fill="#35416c"/>
<line x1="410.50" y1="556.63" x2="410.50" y2="545.50" stroke="#262626" stroke-width="1"/>
<line x1="409.00" y1="545.50" x2="412.00" y2="545.50" stroke="#262626" stroke-width="1.1"/>
<text transform="translate(411.37,626.7) rotate(-90)" font-size="6.4" text-anchor="end" fill="#222" stroke="#222" stroke-width="0.14">N8</text>
<rect x="415.50" y="563.68" width="3.6" height="59.82" fill="#990c34"/>
<line x1="417.50" y1="563.68" x2="417.50" y2="561.50" stroke="#262626" stroke-width="1"/>
<line x1="416.00" y1="561.50" x2="419.00" y2="561.50" stroke="#262626" stroke-width="1.1"/>
<rect x="419.10" y="590.18" width="3.6" height="33.32" fill="#35416c"/>
<line x1="420.50" y1="590.18" x2="420.50" y2="589.50" stroke="#262626" stroke-width="1"/>
<line x1="419.00" y1="589.50" x2="422.00" y2="589.50" stroke="#262626" stroke-width="1.1"/>
<text transform="translate(422.30,626.7) rotate(-90)" font-size="9" font-weight="bold" text-anchor="end" fill="#000">*P6</text>
<rect x="425.53" y="566.00" width="3.6" height="57.50" fill="#990c34"/>
<line x1="427.50" y1="566.00" x2="427.50" y2="563.50" stroke="#262626" stroke-width="1"/>
<line x1="426.00" y1="563.50" x2="429.00" y2="563.50" stroke="#262626" stroke-width="1.1"/>
<rect x="429.13" y="587.29" width="3.6" height="36.21" fill="#35416c"/>
<line x1="430.50" y1="587.29" x2="430.50" y2="585.50" stroke="#262626" stroke-width="1"/>
<line x1="429.00" y1="585.50" x2="432.00" y2="585.50" stroke="#262626" stroke-width="1.1"/>
<text transform="translate(431.43,626.7) rotate(-90)" font-size="6.4" text-anchor="end" fill="#222" stroke="#222" stroke-width="0.14">P10</text>
<rect x="435.56" y="568.20" width="3.6" height="55.30" fill="#990c34"/>
<line x1="437.50" y1="568.20" x2="437.50" y2="561.50" stroke="#262626" stroke-width="1"/>
<line x1="436.00" y1="561.50" x2="439.00" y2="561.50" stroke="#262626" stroke-width="1.1"/>
<rect x="439.16" y="602.91" width="3.6" height="20.59" fill="#35416c"/>
<line x1="440.50" y1="602.91" x2="440.50" y2="600.50" stroke="#262626" stroke-width="1"/>
<line x1="439.00" y1="600.50" x2="442.00" y2="600.50" stroke="#262626" stroke-width="1.1"/>
<text transform="translate(441.46,626.7) rotate(-90)" font-size="6.4" text-anchor="end" fill="#222" stroke="#222" stroke-width="0.14">N11</text>
<rect x="445.59" y="568.66" width="3.6" height="54.84" fill="#990c34"/>
<line x1="447.50" y1="568.66" x2="447.50" y2="565.50" stroke="#262626" stroke-width="1"/>
<line x1="446.00" y1="565.50" x2="449.00" y2="565.50" stroke="#262626" stroke-width="1.1"/>
<rect x="449.19" y="566.00" width="3.6" height="57.50" fill="#35416c"/>
<line x1="450.50" y1="566.00" x2="450.50" y2="563.50" stroke="#262626" stroke-width="1"/>
<line x1="449.00" y1="563.50" x2="452.00" y2="563.50" stroke="#262626" stroke-width="1.1"/>
<text transform="translate(451.49,626.7) rotate(-90)" font-size="6.4" text-anchor="end" fill="#222" stroke="#222" stroke-width="0.14">P4</text>
<rect x="455.62" y="569.58" width="3.6" height="53.92" fill="#990c34"/>
<line x1="457.50" y1="569.58" x2="457.50" y2="566.50" stroke="#262626" stroke-width="1"/>
<line x1="456.00" y1="566.50" x2="459.00" y2="566.50" stroke="#262626" stroke-width="1.1"/>
<rect x="459.22" y="583.81" width="3.6" height="39.69" fill="#35416c"/>
<line x1="461.50" y1="583.81" x2="461.50" y2="582.50" stroke="#262626" stroke-width="1"/>
<line x1="460.00" y1="582.50" x2="463.00" y2="582.50" stroke="#262626" stroke-width="1.1"/>
<text transform="translate(461.52,626.7) rotate(-90)" font-size="6.4" text-anchor="end" fill="#222" stroke="#222" stroke-width="0.14">P2</text>
<rect x="465.65" y="575.72" width="3.6" height="47.78" fill="#990c34"/>
<line x1="467.50" y1="575.72" x2="467.50" y2="574.50" stroke="#262626" stroke-width="1"/>
<line x1="466.00" y1="574.50" x2="469.00" y2="574.50" stroke="#262626" stroke-width="1.1"/>
<rect x="469.25" y="598.05" width="3.6" height="25.45" fill="#35416c"/>
<line x1="471.50" y1="598.05" x2="471.50" y2="597.50" stroke="#262626" stroke-width="1"/>
<line x1="470.00" y1="597.50" x2="473.00" y2="597.50" stroke="#262626" stroke-width="1.1"/>
<text transform="translate(471.55,626.7) rotate(-90)" font-size="6.4" text-anchor="end" fill="#222" stroke="#222" stroke-width="0.14">N13</text>
<rect x="475.68" y="576.06" width="3.6" height="47.44" fill="#990c34"/>
<line x1="477.50" y1="576.06" x2="477.50" y2="575.50" stroke="#262626" stroke-width="1"/>
<line x1="476.00" y1="575.50" x2="479.00" y2="575.50" stroke="#262626" stroke-width="1.1"/>
<rect x="479.28" y="580.81" width="3.6" height="42.69" fill="#35416c"/>
<line x1="481.50" y1="580.81" x2="481.50" y2="580.50" stroke="#262626" stroke-width="1"/>
<line x1="480.00" y1="580.50" x2="483.00" y2="580.50" stroke="#262626" stroke-width="1.1"/>
<text transform="translate(481.58,626.7) rotate(-90)" font-size="6.4" text-anchor="end" fill="#222" stroke="#222" stroke-width="0.14">N10</text>
<rect x="485.71" y="580.11" width="3.6" height="43.39" fill="#990c34"/>
<line x1="487.50" y1="580.11" x2="487.50" y2="574.50" stroke="#262626" stroke-width="1"/>
<line x1="486.00" y1="574.50" x2="489.00" y2="574.50" stroke="#262626" stroke-width="1.1"/>
<rect x="489.31" y="566.69" width="3.6" height="56.81" fill="#35416c"/>
<line x1="491.50" y1="566.69" x2="491.50" y2="561.50" stroke="#262626" stroke-width="1"/>
<line x1="490.00" y1="561.50" x2="493.00" y2="561.50" stroke="#262626" stroke-width="1.1"/>
<text transform="translate(491.61,626.7) rotate(-90)" font-size="6.4" text-anchor="end" fill="#222" stroke="#222" stroke-width="0.14">P1</text>
<rect x="495.74" y="583.00" width="3.6" height="40.50" fill="#990c34"/>
<line x1="497.50" y1="583.00" x2="497.50" y2="580.50" stroke="#262626" stroke-width="1"/>
<line x1="496.00" y1="580.50" x2="499.00" y2="580.50" stroke="#262626" stroke-width="1.1"/>
<rect x="499.34" y="574.10" width="3.6" height="49.40" fill="#35416c"/>
<line x1="501.50" y1="574.10" x2="501.50" y2="569.50" stroke="#262626" stroke-width="1"/>
<line x1="500.00" y1="569.50" x2="503.00" y2="569.50" stroke="#262626" stroke-width="1.1"/>
<text transform="translate(501.64,626.7) rotate(-90)" font-size="6.4" text-anchor="end" fill="#222" stroke="#222" stroke-width="0.14">N4</text>
<rect x="505.77" y="592.03" width="3.6" height="31.47" fill="#990c34"/>
<line x1="507.50" y1="592.03" x2="507.50" y2="579.50" stroke="#262626" stroke-width="1"/>
<line x1="506.00" y1="579.50" x2="509.00" y2="579.50" stroke="#262626" stroke-width="1.1"/>
<rect x="509.37" y="570.39" width="3.6" height="53.11" fill="#35416c"/>
<line x1="511.50" y1="570.39" x2="511.50" y2="550.50" stroke="#262626" stroke-width="1"/>
<line x1="510.00" y1="550.50" x2="513.00" y2="550.50" stroke="#262626" stroke-width="1.1"/>
<text transform="translate(511.67,626.7) rotate(-90)" font-size="6.4" text-anchor="end" fill="#222" stroke="#222" stroke-width="0.14">N5</text>
<line x1="307.60" y1="447.10" x2="307.60" y2="624.10" stroke="#000" stroke-width="1.1"/>
<line x1="304.60" y1="623.50" x2="515.80" y2="623.50" stroke="#000" stroke-width="1.2"/>
<line x1="304.20" y1="565.50" x2="307.60" y2="565.50" stroke="#000" stroke-width="1"/>
<line x1="304.20" y1="507.50" x2="307.60" y2="507.50" stroke="#000" stroke-width="1"/>
<line x1="304.20" y1="449.50" x2="307.60" y2="449.50" stroke="#000" stroke-width="1"/>
<text x="301.00" y="625.80" font-size="6.5" text-anchor="end" font-weight="normal" fill="#222" stroke="#222" stroke-width="0.12" >0</text>
<text x="301.00" y="567.95" font-size="6.5" text-anchor="end" font-weight="normal" fill="#222" stroke="#222" stroke-width="0.12" >50</text>
<text x="301.00" y="510.10" font-size="6.5" text-anchor="end" font-weight="normal" fill="#222" stroke="#222" stroke-width="0.12" >100</text>
<text x="301.00" y="452.25" font-size="6.5" text-anchor="end" font-weight="normal" fill="#222" stroke="#222" stroke-width="0.12" >150</text>
<text x="414.00" y="419.20" font-size="8.6" text-anchor="middle" font-weight="normal" fill="#111" stroke="#111" stroke-width="0.12" textLength="188.7" lengthAdjust="spacingAndGlyphs">Distance from PD1+ CD8+ T-cells to PD-L1+/- TAMs</text>
<text x="414.00" y="428.80" font-size="8.6" text-anchor="middle" font-weight="normal" fill="#111" stroke="#111" stroke-width="0.12" textLength="70.3" lengthAdjust="spacingAndGlyphs">Paired t-test : 0.005</text>
<rect x="454.90" y="450.8" width="4.2" height="4.6" fill="#990c34"/>
<rect x="454.90" y="460.6" width="4.2" height="4.4" fill="#35416c"/>
<text x="462.70" y="455.50" font-size="6.9" text-anchor="start" font-weight="normal" fill="#222" stroke="#222" stroke-width="0.12" textLength="43.2" lengthAdjust="spacingAndGlyphs">PD-L1– TAMs</text>
<text x="462.70" y="465.20" font-size="6.9" text-anchor="start" font-weight="normal" fill="#222" stroke="#222" stroke-width="0.12" textLength="43.2" lengthAdjust="spacingAndGlyphs">PD-L1+ TAMs</text>
<text transform="translate(283.20,536.8) rotate(-90)" font-size="9.2" text-anchor="middle" fill="#222" stroke="#222" stroke-width="0.12" textLength="106.5" lengthAdjust="spacingAndGlyphs">Average distance to NN (µm)</text>
<text x="153.2" y="658.8" font-size="9.3" text-anchor="middle" fill="#222" stroke="#222" stroke-width="0.12" textLength="30.6" lengthAdjust="spacingAndGlyphs">Samples</text>
<text x="413.8" y="658.8" font-size="9.3" text-anchor="middle" fill="#222" stroke="#222" stroke-width="0.12" textLength="30.7" lengthAdjust="spacingAndGlyphs">Samples</text>
</svg>
<div class="frame"></div>
</body></html>
